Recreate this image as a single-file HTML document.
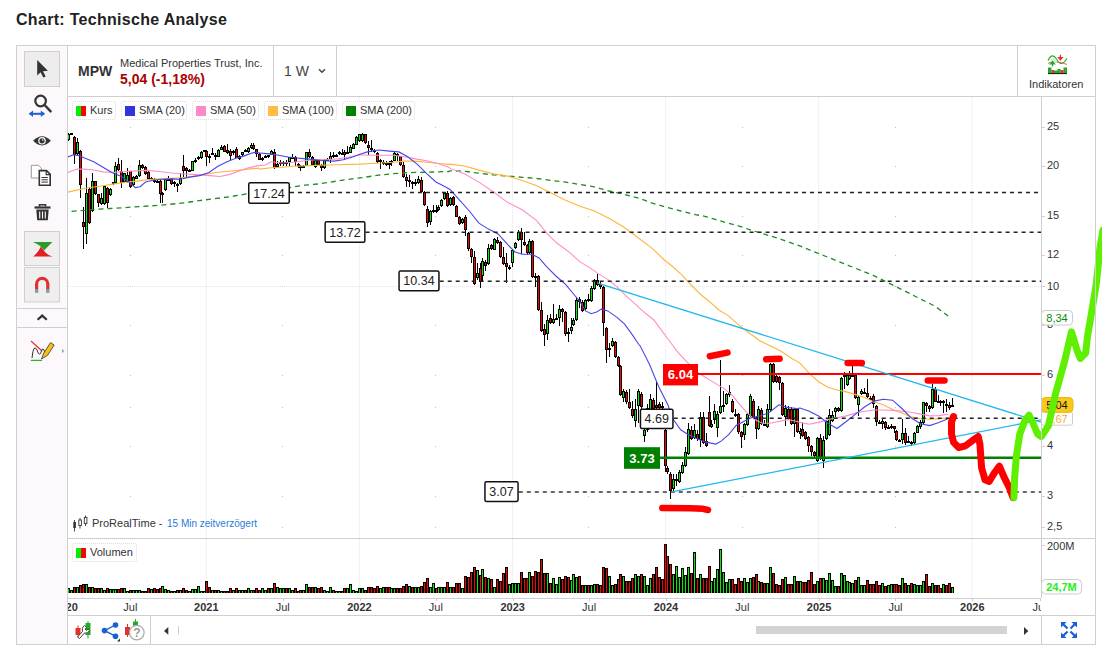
<!DOCTYPE html>
<html><head><meta charset="utf-8">
<style>
*{margin:0;padding:0;box-sizing:border-box}
html,body{width:1102px;height:648px;overflow:hidden;background:#fff;font-family:"Liberation Sans",sans-serif;color:#333}
.a{position:absolute}
#title{left:16px;top:11px;font-size:16px;font-weight:bold;color:#222;letter-spacing:0.3px;white-space:nowrap}
#box{left:16px;top:45px;width:1080px;height:600px;border:1px solid #cfcfcf}
#tb{left:17px;top:46px;width:51px;height:598px;background:#fdf8fb;border-right:1px solid #cfcfcf}
.hl{background:#cfcfcf}
#hdr{left:68px;top:46px;width:1027px;height:51px;border-bottom:1px solid #cfcfcf}
.leg{position:absolute;top:101px;height:19px;border:1px dotted #e6d6e0;border-radius:3px;font-size:11px;color:#333;line-height:18px;white-space:nowrap;background:#fff}
.sw{position:absolute;top:4px;width:10px;height:10px}
.lt{position:absolute;left:17px;top:-1px}
</style></head><body>
<div id="title" class="a">Chart: Technische Analyse</div>
<div id="box" class="a"></div>
<div id="tb" class="a"></div>
<!-- toolbar separators -->
<div class="a hl" style="left:17px;top:308px;width:50px;height:1px"></div>
<div class="a hl" style="left:17px;top:327px;width:50px;height:1px"></div>
<!-- header -->
<div id="hdr" class="a"></div>
<div class="a hl" style="left:273px;top:46px;width:1px;height:50px"></div>
<div class="a hl" style="left:336px;top:46px;width:1px;height:50px"></div>
<div class="a hl" style="left:1017px;top:46px;width:1px;height:50px"></div>
<div class="a" style="left:78px;top:63px;font-size:14px;font-weight:bold;color:#333">MPW</div>
<div class="a" style="left:120px;top:57px;font-size:11px;color:#333;white-space:nowrap">Medical Properties Trust, Inc.</div>
<div class="a" style="left:120px;top:71px;font-size:14px;font-weight:bold;color:#aa0000;white-space:nowrap">5,04 (-1,18%)</div>
<div class="a" style="left:284px;top:63px;font-size:14px;color:#444;white-space:nowrap">1 W</div>
<svg class="a" style="left:317px;top:67px" width="10" height="8"><path d="M2,2.3 L5,5.2 L8,2.3" stroke="#444" stroke-width="1.5" fill="none"/></svg>
<div class="a" style="left:1029px;top:78px;font-size:11px;color:#333">Indikatoren</div>
<!-- panes borders -->
<div class="a hl" style="left:68px;top:538px;width:1027px;height:1px"></div>
<div class="a hl" style="left:1041px;top:97px;width:1px;height:501px"></div>
<div class="a hl" style="left:68px;top:598px;width:973px;height:1px"></div>
<div class="a hl" style="left:68px;top:615px;width:1027px;height:1px"></div>
<div class="a hl" style="left:150px;top:616px;width:1px;height:28px"></div>
<div class="a hl" style="left:1041px;top:616px;width:1px;height:28px"></div>
<!-- scrollbar -->
<div class="a" style="left:756px;top:626px;width:251px;height:8px;background:#d3d3d3"></div>
<svg id="ch" width="1102" height="648" font-family="Liberation Sans, sans-serif"><defs><clipPath id="cp"><rect x="68" y="97" width="973" height="441"/></clipPath><clipPath id="cv"><rect x="68" y="539" width="973" height="59"/></clipPath><clipPath id="ct"><rect x="68" y="599" width="973" height="16"/></clipPath></defs><g clip-path="url(#cp)"><line x1="206.3" y1="97" x2="206.3" y2="538" stroke="#e4e4ee" stroke-width="1" stroke-dasharray="1 1"/><line x1="359.4" y1="97" x2="359.4" y2="538" stroke="#e4e4ee" stroke-width="1" stroke-dasharray="1 1"/><line x1="512.5" y1="97" x2="512.5" y2="538" stroke="#e4e4ee" stroke-width="1" stroke-dasharray="1 1"/><line x1="665.6" y1="97" x2="665.6" y2="538" stroke="#e4e4ee" stroke-width="1" stroke-dasharray="1 1"/><line x1="818.7" y1="97" x2="818.7" y2="538" stroke="#e4e4ee" stroke-width="1" stroke-dasharray="1 1"/><line x1="971.8" y1="97" x2="971.8" y2="538" stroke="#e4e4ee" stroke-width="1" stroke-dasharray="1 1"/><line x1="68" y1="286.5" x2="1041" y2="286.5" stroke="#e4e4ee" stroke-width="1" stroke-dasharray="1 1"/><rect x="130" y="127" width="1" height="1" fill="#bbb"/><rect x="130" y="166" width="1" height="1" fill="#bbb"/><rect x="130" y="216" width="1" height="1" fill="#bbb"/><rect x="130" y="255" width="1" height="1" fill="#bbb"/><rect x="130" y="286" width="1" height="1" fill="#bbb"/><rect x="130" y="325" width="1" height="1" fill="#bbb"/><rect x="130" y="375" width="1" height="1" fill="#bbb"/><rect x="130" y="407" width="1" height="1" fill="#bbb"/><rect x="130" y="446" width="1" height="1" fill="#bbb"/><rect x="130" y="496" width="1" height="1" fill="#bbb"/><rect x="130" y="527" width="1" height="1" fill="#bbb"/><rect x="282" y="127" width="1" height="1" fill="#bbb"/><rect x="282" y="166" width="1" height="1" fill="#bbb"/><rect x="282" y="216" width="1" height="1" fill="#bbb"/><rect x="282" y="255" width="1" height="1" fill="#bbb"/><rect x="282" y="286" width="1" height="1" fill="#bbb"/><rect x="282" y="325" width="1" height="1" fill="#bbb"/><rect x="282" y="375" width="1" height="1" fill="#bbb"/><rect x="282" y="407" width="1" height="1" fill="#bbb"/><rect x="282" y="446" width="1" height="1" fill="#bbb"/><rect x="282" y="496" width="1" height="1" fill="#bbb"/><rect x="282" y="527" width="1" height="1" fill="#bbb"/><rect x="435" y="127" width="1" height="1" fill="#bbb"/><rect x="435" y="166" width="1" height="1" fill="#bbb"/><rect x="435" y="216" width="1" height="1" fill="#bbb"/><rect x="435" y="255" width="1" height="1" fill="#bbb"/><rect x="435" y="286" width="1" height="1" fill="#bbb"/><rect x="435" y="325" width="1" height="1" fill="#bbb"/><rect x="435" y="375" width="1" height="1" fill="#bbb"/><rect x="435" y="407" width="1" height="1" fill="#bbb"/><rect x="435" y="446" width="1" height="1" fill="#bbb"/><rect x="435" y="496" width="1" height="1" fill="#bbb"/><rect x="435" y="527" width="1" height="1" fill="#bbb"/><rect x="588" y="127" width="1" height="1" fill="#bbb"/><rect x="588" y="166" width="1" height="1" fill="#bbb"/><rect x="588" y="216" width="1" height="1" fill="#bbb"/><rect x="588" y="255" width="1" height="1" fill="#bbb"/><rect x="588" y="286" width="1" height="1" fill="#bbb"/><rect x="588" y="325" width="1" height="1" fill="#bbb"/><rect x="588" y="375" width="1" height="1" fill="#bbb"/><rect x="588" y="407" width="1" height="1" fill="#bbb"/><rect x="588" y="446" width="1" height="1" fill="#bbb"/><rect x="588" y="496" width="1" height="1" fill="#bbb"/><rect x="588" y="527" width="1" height="1" fill="#bbb"/><rect x="742" y="127" width="1" height="1" fill="#bbb"/><rect x="742" y="166" width="1" height="1" fill="#bbb"/><rect x="742" y="216" width="1" height="1" fill="#bbb"/><rect x="742" y="255" width="1" height="1" fill="#bbb"/><rect x="742" y="286" width="1" height="1" fill="#bbb"/><rect x="742" y="325" width="1" height="1" fill="#bbb"/><rect x="742" y="375" width="1" height="1" fill="#bbb"/><rect x="742" y="407" width="1" height="1" fill="#bbb"/><rect x="742" y="446" width="1" height="1" fill="#bbb"/><rect x="742" y="496" width="1" height="1" fill="#bbb"/><rect x="742" y="527" width="1" height="1" fill="#bbb"/><rect x="895" y="127" width="1" height="1" fill="#bbb"/><rect x="895" y="166" width="1" height="1" fill="#bbb"/><rect x="895" y="216" width="1" height="1" fill="#bbb"/><rect x="895" y="255" width="1" height="1" fill="#bbb"/><rect x="895" y="286" width="1" height="1" fill="#bbb"/><rect x="895" y="325" width="1" height="1" fill="#bbb"/><rect x="895" y="375" width="1" height="1" fill="#bbb"/><rect x="895" y="407" width="1" height="1" fill="#bbb"/><rect x="895" y="446" width="1" height="1" fill="#bbb"/><rect x="895" y="496" width="1" height="1" fill="#bbb"/><rect x="895" y="527" width="1" height="1" fill="#bbb"/><rect x="1048" y="127" width="1" height="1" fill="#bbb"/><rect x="1048" y="166" width="1" height="1" fill="#bbb"/><rect x="1048" y="216" width="1" height="1" fill="#bbb"/><rect x="1048" y="255" width="1" height="1" fill="#bbb"/><rect x="1048" y="286" width="1" height="1" fill="#bbb"/><rect x="1048" y="325" width="1" height="1" fill="#bbb"/><rect x="1048" y="375" width="1" height="1" fill="#bbb"/><rect x="1048" y="407" width="1" height="1" fill="#bbb"/><rect x="1048" y="446" width="1" height="1" fill="#bbb"/><rect x="1048" y="496" width="1" height="1" fill="#bbb"/><rect x="1048" y="527" width="1" height="1" fill="#bbb"/></g><g clip-path="url(#cv)"><line x1="206.3" y1="539" x2="206.3" y2="598" stroke="#e4e4ee" stroke-dasharray="1 1"/><line x1="359.4" y1="539" x2="359.4" y2="598" stroke="#e4e4ee" stroke-dasharray="1 1"/><line x1="512.5" y1="539" x2="512.5" y2="598" stroke="#e4e4ee" stroke-dasharray="1 1"/><line x1="665.6" y1="539" x2="665.6" y2="598" stroke="#e4e4ee" stroke-dasharray="1 1"/><line x1="818.7" y1="539" x2="818.7" y2="598" stroke="#e4e4ee" stroke-dasharray="1 1"/><line x1="971.8" y1="539" x2="971.8" y2="598" stroke="#e4e4ee" stroke-dasharray="1 1"/></g><g clip-path="url(#cp)"><rect x="68" y="133" width="1" height="8" fill="#000"/><rect x="67" y="134" width="3" height="6" fill="#000"/><rect x="68" y="135" width="1" height="4" fill="#00ee00"/><rect x="71" y="133" width="1" height="2" fill="#000"/><rect x="70" y="133" width="3" height="2" fill="#000"/><rect x="74" y="136" width="1" height="28" fill="#000"/><rect x="73" y="137" width="3" height="18" fill="#000"/><rect x="74" y="138" width="1" height="16" fill="#ff0000"/><rect x="77" y="138" width="1" height="17" fill="#000"/><rect x="76" y="142" width="3" height="12" fill="#000"/><rect x="77" y="143" width="1" height="10" fill="#00ee00"/><rect x="80" y="150" width="1" height="48" fill="#000"/><rect x="79" y="151" width="3" height="34" fill="#000"/><rect x="80" y="152" width="1" height="32" fill="#ff0000"/><rect x="83" y="207" width="1" height="42" fill="#000"/><rect x="82" y="222" width="3" height="5" fill="#000"/><rect x="83" y="223" width="1" height="3" fill="#ff0000"/><rect x="86" y="178" width="1" height="66" fill="#000"/><rect x="85" y="193" width="3" height="41" fill="#000"/><rect x="86" y="194" width="1" height="39" fill="#00ee00"/><rect x="89" y="187" width="1" height="37" fill="#000"/><rect x="88" y="189" width="3" height="34" fill="#000"/><rect x="89" y="190" width="1" height="32" fill="#ff0000"/><rect x="92" y="173" width="1" height="39" fill="#000"/><rect x="91" y="181" width="3" height="30" fill="#000"/><rect x="92" y="182" width="1" height="28" fill="#00ee00"/><rect x="95" y="181" width="1" height="14" fill="#000"/><rect x="94" y="181" width="3" height="13" fill="#000"/><rect x="95" y="182" width="1" height="11" fill="#ff0000"/><rect x="98" y="194" width="1" height="13" fill="#000"/><rect x="97" y="194" width="3" height="9" fill="#000"/><rect x="98" y="195" width="1" height="7" fill="#ff0000"/><rect x="101" y="193" width="1" height="12" fill="#000"/><rect x="100" y="198" width="3" height="6" fill="#000"/><rect x="101" y="199" width="1" height="4" fill="#00ee00"/><rect x="104" y="185" width="1" height="20" fill="#000"/><rect x="103" y="186" width="3" height="18" fill="#000"/><rect x="104" y="187" width="1" height="16" fill="#00ee00"/><rect x="107" y="187" width="1" height="21" fill="#000"/><rect x="106" y="188" width="3" height="15" fill="#000"/><rect x="107" y="189" width="1" height="13" fill="#ff0000"/><rect x="110" y="188" width="1" height="8" fill="#000"/><rect x="109" y="189" width="3" height="6" fill="#000"/><rect x="110" y="190" width="1" height="4" fill="#00ee00"/><rect x="113" y="182" width="1" height="3" fill="#000"/><rect x="112" y="182" width="3" height="2" fill="#000"/><rect x="115" y="162" width="1" height="22" fill="#000"/><rect x="114" y="166" width="3" height="17" fill="#000"/><rect x="115" y="167" width="1" height="15" fill="#00ee00"/><rect x="118" y="158" width="1" height="13" fill="#000"/><rect x="117" y="164" width="3" height="6" fill="#000"/><rect x="118" y="165" width="1" height="4" fill="#ff0000"/><rect x="121" y="160" width="1" height="28" fill="#000"/><rect x="120" y="171" width="3" height="12" fill="#000"/><rect x="121" y="172" width="1" height="10" fill="#ff0000"/><rect x="124" y="173" width="1" height="10" fill="#000"/><rect x="123" y="173" width="3" height="9" fill="#000"/><rect x="124" y="174" width="1" height="7" fill="#00ee00"/><rect x="127" y="168" width="1" height="15" fill="#000"/><rect x="126" y="175" width="3" height="7" fill="#000"/><rect x="127" y="176" width="1" height="5" fill="#00ee00"/><rect x="130" y="171" width="1" height="17" fill="#000"/><rect x="129" y="171" width="3" height="16" fill="#000"/><rect x="130" y="172" width="1" height="14" fill="#ff0000"/><rect x="133" y="176" width="1" height="10" fill="#000"/><rect x="132" y="177" width="3" height="8" fill="#000"/><rect x="133" y="178" width="1" height="6" fill="#00ee00"/><rect x="136" y="175" width="1" height="4" fill="#000"/><rect x="135" y="176" width="3" height="3" fill="#000"/><rect x="136" y="177" width="1" height="1" fill="#00ee00"/><rect x="139" y="160" width="1" height="17" fill="#000"/><rect x="138" y="165" width="3" height="11" fill="#000"/><rect x="139" y="166" width="1" height="9" fill="#00ee00"/><rect x="142" y="164" width="1" height="5" fill="#000"/><rect x="141" y="165" width="3" height="3" fill="#000"/><rect x="142" y="166" width="1" height="1" fill="#ff0000"/><rect x="145" y="166" width="1" height="9" fill="#000"/><rect x="144" y="167" width="3" height="7" fill="#000"/><rect x="145" y="168" width="1" height="5" fill="#ff0000"/><rect x="148" y="171" width="1" height="9" fill="#000"/><rect x="147" y="172" width="3" height="7" fill="#000"/><rect x="148" y="173" width="1" height="5" fill="#ff0000"/><rect x="151" y="177" width="1" height="3" fill="#000"/><rect x="150" y="178" width="3" height="2" fill="#000"/><rect x="154" y="178" width="1" height="5" fill="#000"/><rect x="153" y="180" width="3" height="2" fill="#000"/><rect x="157" y="180" width="1" height="3" fill="#000"/><rect x="156" y="181" width="3" height="2" fill="#000"/><rect x="160" y="180" width="1" height="23" fill="#000"/><rect x="159" y="181" width="3" height="13" fill="#000"/><rect x="160" y="182" width="1" height="11" fill="#ff0000"/><rect x="162" y="192" width="1" height="11" fill="#000"/><rect x="161" y="193" width="3" height="2" fill="#000"/><rect x="165" y="178" width="1" height="13" fill="#000"/><rect x="164" y="179" width="3" height="11" fill="#000"/><rect x="165" y="180" width="1" height="9" fill="#00ee00"/><rect x="168" y="176" width="1" height="5" fill="#000"/><rect x="167" y="179" width="3" height="2" fill="#000"/><rect x="171" y="178" width="1" height="7" fill="#000"/><rect x="170" y="179" width="3" height="5" fill="#000"/><rect x="171" y="180" width="1" height="3" fill="#ff0000"/><rect x="174" y="181" width="1" height="6" fill="#000"/><rect x="173" y="182" width="3" height="2" fill="#000"/><rect x="177" y="183" width="1" height="9" fill="#000"/><rect x="176" y="184" width="3" height="2" fill="#000"/><rect x="180" y="173" width="1" height="12" fill="#000"/><rect x="179" y="178" width="3" height="6" fill="#000"/><rect x="180" y="179" width="1" height="4" fill="#00ee00"/><rect x="183" y="155" width="1" height="22" fill="#000"/><rect x="182" y="166" width="3" height="5" fill="#000"/><rect x="183" y="167" width="1" height="3" fill="#ff0000"/><rect x="186" y="167" width="1" height="10" fill="#000"/><rect x="185" y="168" width="3" height="3" fill="#000"/><rect x="186" y="169" width="1" height="1" fill="#ff0000"/><rect x="189" y="169" width="1" height="3" fill="#000"/><rect x="188" y="170" width="3" height="2" fill="#000"/><rect x="192" y="161" width="1" height="10" fill="#000"/><rect x="191" y="161" width="3" height="10" fill="#000"/><rect x="192" y="162" width="1" height="8" fill="#00ee00"/><rect x="195" y="158" width="1" height="5" fill="#000"/><rect x="194" y="160" width="3" height="2" fill="#000"/><rect x="198" y="156" width="1" height="4" fill="#000"/><rect x="197" y="157" width="3" height="2" fill="#000"/><rect x="201" y="151" width="1" height="8" fill="#000"/><rect x="200" y="152" width="3" height="6" fill="#000"/><rect x="201" y="153" width="1" height="4" fill="#00ee00"/><rect x="204" y="150" width="1" height="2" fill="#000"/><rect x="203" y="150" width="3" height="2" fill="#000"/><rect x="206" y="150" width="1" height="16" fill="#000"/><rect x="205" y="151" width="3" height="6" fill="#000"/><rect x="206" y="152" width="1" height="4" fill="#ff0000"/><rect x="209" y="154" width="1" height="9" fill="#000"/><rect x="208" y="156" width="3" height="2" fill="#000"/><rect x="212" y="148" width="1" height="7" fill="#000"/><rect x="211" y="153" width="3" height="2" fill="#000"/><rect x="215" y="153" width="1" height="7" fill="#000"/><rect x="214" y="155" width="3" height="2" fill="#000"/><rect x="218" y="149" width="1" height="8" fill="#000"/><rect x="217" y="150" width="3" height="7" fill="#000"/><rect x="218" y="151" width="1" height="5" fill="#00ee00"/><rect x="221" y="145" width="1" height="5" fill="#000"/><rect x="220" y="147" width="3" height="3" fill="#000"/><rect x="221" y="148" width="1" height="1" fill="#00ee00"/><rect x="224" y="145" width="1" height="7" fill="#000"/><rect x="223" y="146" width="3" height="6" fill="#000"/><rect x="224" y="147" width="1" height="4" fill="#ff0000"/><rect x="227" y="144" width="1" height="10" fill="#000"/><rect x="226" y="150" width="3" height="3" fill="#000"/><rect x="227" y="151" width="1" height="1" fill="#ff0000"/><rect x="230" y="149" width="1" height="11" fill="#000"/><rect x="229" y="151" width="3" height="5" fill="#000"/><rect x="230" y="152" width="1" height="3" fill="#ff0000"/><rect x="233" y="150" width="1" height="5" fill="#000"/><rect x="232" y="151" width="3" height="2" fill="#000"/><rect x="236" y="147" width="1" height="11" fill="#000"/><rect x="235" y="149" width="3" height="9" fill="#000"/><rect x="236" y="150" width="1" height="7" fill="#ff0000"/><rect x="239" y="155" width="1" height="5" fill="#000"/><rect x="238" y="156" width="3" height="3" fill="#000"/><rect x="239" y="157" width="1" height="1" fill="#00ee00"/><rect x="242" y="152" width="1" height="4" fill="#000"/><rect x="241" y="152" width="3" height="3" fill="#000"/><rect x="242" y="153" width="1" height="1" fill="#00ee00"/><rect x="245" y="149" width="1" height="3" fill="#000"/><rect x="244" y="150" width="3" height="2" fill="#000"/><rect x="248" y="147" width="1" height="6" fill="#000"/><rect x="247" y="148" width="3" height="4" fill="#000"/><rect x="248" y="149" width="1" height="2" fill="#00ee00"/><rect x="251" y="143" width="1" height="6" fill="#000"/><rect x="250" y="145" width="3" height="3" fill="#000"/><rect x="251" y="146" width="1" height="1" fill="#00ee00"/><rect x="253" y="143" width="1" height="7" fill="#000"/><rect x="252" y="145" width="3" height="4" fill="#000"/><rect x="253" y="146" width="1" height="2" fill="#ff0000"/><rect x="256" y="149" width="1" height="8" fill="#000"/><rect x="255" y="149" width="3" height="5" fill="#000"/><rect x="256" y="150" width="1" height="3" fill="#ff0000"/><rect x="259" y="153" width="1" height="7" fill="#000"/><rect x="258" y="154" width="3" height="6" fill="#000"/><rect x="259" y="155" width="1" height="4" fill="#ff0000"/><rect x="262" y="157" width="1" height="4" fill="#000"/><rect x="261" y="158" width="3" height="2" fill="#000"/><rect x="265" y="155" width="1" height="3" fill="#000"/><rect x="264" y="156" width="3" height="2" fill="#000"/><rect x="268" y="155" width="1" height="3" fill="#000"/><rect x="267" y="155" width="3" height="2" fill="#000"/><rect x="271" y="150" width="1" height="5" fill="#000"/><rect x="270" y="151" width="3" height="4" fill="#000"/><rect x="271" y="152" width="1" height="2" fill="#00ee00"/><rect x="274" y="149" width="1" height="20" fill="#000"/><rect x="273" y="152" width="3" height="16" fill="#000"/><rect x="274" y="153" width="1" height="14" fill="#ff0000"/><rect x="277" y="161" width="1" height="7" fill="#000"/><rect x="276" y="164" width="3" height="3" fill="#000"/><rect x="277" y="165" width="1" height="1" fill="#00ee00"/><rect x="280" y="160" width="1" height="6" fill="#000"/><rect x="279" y="162" width="3" height="2" fill="#000"/><rect x="283" y="161" width="1" height="5" fill="#000"/><rect x="282" y="162" width="3" height="2" fill="#000"/><rect x="286" y="160" width="1" height="6" fill="#000"/><rect x="285" y="162" width="3" height="2" fill="#000"/><rect x="289" y="157" width="1" height="9" fill="#000"/><rect x="288" y="157" width="3" height="5" fill="#000"/><rect x="289" y="158" width="1" height="3" fill="#00ee00"/><rect x="292" y="154" width="1" height="5" fill="#000"/><rect x="291" y="157" width="3" height="2" fill="#000"/><rect x="295" y="156" width="1" height="10" fill="#000"/><rect x="294" y="157" width="3" height="5" fill="#000"/><rect x="295" y="158" width="1" height="3" fill="#ff0000"/><rect x="298" y="163" width="1" height="5" fill="#000"/><rect x="297" y="164" width="3" height="2" fill="#000"/><rect x="300" y="165" width="1" height="6" fill="#000"/><rect x="299" y="166" width="3" height="2" fill="#000"/><rect x="303" y="165" width="1" height="3" fill="#000"/><rect x="302" y="166" width="3" height="2" fill="#000"/><rect x="306" y="152" width="1" height="14" fill="#000"/><rect x="305" y="152" width="3" height="14" fill="#000"/><rect x="306" y="153" width="1" height="12" fill="#00ee00"/><rect x="309" y="149" width="1" height="9" fill="#000"/><rect x="308" y="152" width="3" height="5" fill="#000"/><rect x="309" y="153" width="1" height="3" fill="#ff0000"/><rect x="312" y="156" width="1" height="10" fill="#000"/><rect x="311" y="157" width="3" height="8" fill="#000"/><rect x="312" y="158" width="1" height="6" fill="#ff0000"/><rect x="315" y="159" width="1" height="9" fill="#000"/><rect x="314" y="160" width="3" height="7" fill="#000"/><rect x="315" y="161" width="1" height="5" fill="#00ee00"/><rect x="318" y="160" width="1" height="5" fill="#000"/><rect x="317" y="160" width="3" height="5" fill="#000"/><rect x="318" y="161" width="1" height="3" fill="#ff0000"/><rect x="321" y="164" width="1" height="7" fill="#000"/><rect x="320" y="165" width="3" height="3" fill="#000"/><rect x="321" y="166" width="1" height="1" fill="#ff0000"/><rect x="324" y="159" width="1" height="10" fill="#000"/><rect x="323" y="160" width="3" height="8" fill="#000"/><rect x="324" y="161" width="1" height="6" fill="#00ee00"/><rect x="327" y="158" width="1" height="3" fill="#000"/><rect x="326" y="159" width="3" height="2" fill="#000"/><rect x="330" y="152" width="1" height="11" fill="#000"/><rect x="329" y="156" width="3" height="4" fill="#000"/><rect x="330" y="157" width="1" height="2" fill="#00ee00"/><rect x="333" y="152" width="1" height="6" fill="#000"/><rect x="332" y="155" width="3" height="2" fill="#000"/><rect x="336" y="154" width="1" height="3" fill="#000"/><rect x="335" y="155" width="3" height="2" fill="#000"/><rect x="339" y="151" width="1" height="4" fill="#000"/><rect x="338" y="152" width="3" height="2" fill="#000"/><rect x="342" y="149" width="1" height="6" fill="#000"/><rect x="341" y="153" width="3" height="2" fill="#000"/><rect x="344" y="150" width="1" height="9" fill="#000"/><rect x="343" y="152" width="3" height="3" fill="#000"/><rect x="344" y="153" width="1" height="1" fill="#ff0000"/><rect x="347" y="146" width="1" height="8" fill="#000"/><rect x="346" y="152" width="3" height="2" fill="#000"/><rect x="350" y="145" width="1" height="8" fill="#000"/><rect x="349" y="147" width="3" height="6" fill="#000"/><rect x="350" y="148" width="1" height="4" fill="#00ee00"/><rect x="353" y="143" width="1" height="6" fill="#000"/><rect x="352" y="144" width="3" height="5" fill="#000"/><rect x="353" y="145" width="1" height="3" fill="#00ee00"/><rect x="356" y="136" width="1" height="9" fill="#000"/><rect x="355" y="137" width="3" height="8" fill="#000"/><rect x="356" y="138" width="1" height="6" fill="#00ee00"/><rect x="359" y="134" width="1" height="8" fill="#000"/><rect x="358" y="134" width="3" height="7" fill="#000"/><rect x="359" y="135" width="1" height="5" fill="#00ee00"/><rect x="362" y="133" width="1" height="9" fill="#000"/><rect x="361" y="134" width="3" height="7" fill="#000"/><rect x="362" y="135" width="1" height="5" fill="#00ee00"/><rect x="365" y="134" width="1" height="10" fill="#000"/><rect x="364" y="134" width="3" height="9" fill="#000"/><rect x="365" y="135" width="1" height="7" fill="#ff0000"/><rect x="368" y="141" width="1" height="14" fill="#000"/><rect x="367" y="145" width="3" height="3" fill="#000"/><rect x="368" y="146" width="1" height="1" fill="#ff0000"/><rect x="371" y="140" width="1" height="12" fill="#000"/><rect x="370" y="148" width="3" height="2" fill="#000"/><rect x="374" y="149" width="1" height="4" fill="#000"/><rect x="373" y="150" width="3" height="2" fill="#000"/><rect x="377" y="152" width="1" height="11" fill="#000"/><rect x="376" y="153" width="3" height="9" fill="#000"/><rect x="377" y="154" width="1" height="7" fill="#ff0000"/><rect x="380" y="159" width="1" height="10" fill="#000"/><rect x="379" y="160" width="3" height="2" fill="#000"/><rect x="383" y="160" width="1" height="5" fill="#000"/><rect x="382" y="162" width="3" height="2" fill="#000"/><rect x="386" y="161" width="1" height="5" fill="#000"/><rect x="385" y="163" width="3" height="2" fill="#000"/><rect x="389" y="161" width="1" height="8" fill="#000"/><rect x="388" y="163" width="3" height="2" fill="#000"/><rect x="391" y="160" width="1" height="6" fill="#000"/><rect x="390" y="161" width="3" height="2" fill="#000"/><rect x="394" y="152" width="1" height="9" fill="#000"/><rect x="393" y="153" width="3" height="8" fill="#000"/><rect x="394" y="154" width="1" height="6" fill="#00ee00"/><rect x="397" y="153" width="1" height="8" fill="#000"/><rect x="396" y="154" width="3" height="2" fill="#000"/><rect x="400" y="156" width="1" height="10" fill="#000"/><rect x="399" y="156" width="3" height="9" fill="#000"/><rect x="400" y="157" width="1" height="7" fill="#ff0000"/><rect x="403" y="162" width="1" height="16" fill="#000"/><rect x="402" y="165" width="3" height="12" fill="#000"/><rect x="403" y="166" width="1" height="10" fill="#ff0000"/><rect x="406" y="174" width="1" height="13" fill="#000"/><rect x="405" y="177" width="3" height="4" fill="#000"/><rect x="406" y="178" width="1" height="2" fill="#ff0000"/><rect x="409" y="175" width="1" height="12" fill="#000"/><rect x="408" y="180" width="3" height="2" fill="#000"/><rect x="412" y="181" width="1" height="8" fill="#000"/><rect x="411" y="182" width="3" height="2" fill="#000"/><rect x="415" y="179" width="1" height="7" fill="#000"/><rect x="414" y="182" width="3" height="2" fill="#000"/><rect x="418" y="176" width="1" height="8" fill="#000"/><rect x="417" y="179" width="3" height="4" fill="#000"/><rect x="418" y="180" width="1" height="2" fill="#00ee00"/><rect x="421" y="177" width="1" height="15" fill="#000"/><rect x="420" y="180" width="3" height="12" fill="#000"/><rect x="421" y="181" width="1" height="10" fill="#ff0000"/><rect x="424" y="191" width="1" height="15" fill="#000"/><rect x="423" y="192" width="3" height="13" fill="#000"/><rect x="424" y="193" width="1" height="11" fill="#ff0000"/><rect x="427" y="206" width="1" height="21" fill="#000"/><rect x="426" y="209" width="3" height="14" fill="#000"/><rect x="427" y="210" width="1" height="12" fill="#ff0000"/><rect x="430" y="210" width="1" height="15" fill="#000"/><rect x="429" y="211" width="3" height="11" fill="#000"/><rect x="430" y="212" width="1" height="9" fill="#00ee00"/><rect x="433" y="205" width="1" height="8" fill="#000"/><rect x="432" y="210" width="3" height="2" fill="#000"/><rect x="436" y="205" width="1" height="8" fill="#000"/><rect x="435" y="210" width="3" height="2" fill="#000"/><rect x="438" y="205" width="1" height="6" fill="#000"/><rect x="437" y="207" width="3" height="3" fill="#000"/><rect x="438" y="208" width="1" height="1" fill="#00ee00"/><rect x="441" y="199" width="1" height="8" fill="#000"/><rect x="440" y="200" width="3" height="6" fill="#000"/><rect x="441" y="201" width="1" height="4" fill="#00ee00"/><rect x="444" y="192" width="1" height="8" fill="#000"/><rect x="443" y="193" width="3" height="6" fill="#000"/><rect x="444" y="194" width="1" height="4" fill="#00ee00"/><rect x="447" y="191" width="1" height="16" fill="#000"/><rect x="446" y="193" width="3" height="13" fill="#000"/><rect x="447" y="194" width="1" height="11" fill="#ff0000"/><rect x="450" y="197" width="1" height="9" fill="#000"/><rect x="449" y="198" width="3" height="7" fill="#000"/><rect x="450" y="199" width="1" height="5" fill="#00ee00"/><rect x="453" y="196" width="1" height="10" fill="#000"/><rect x="452" y="197" width="3" height="8" fill="#000"/><rect x="453" y="198" width="1" height="6" fill="#ff0000"/><rect x="456" y="205" width="1" height="12" fill="#000"/><rect x="455" y="206" width="3" height="11" fill="#000"/><rect x="456" y="207" width="1" height="9" fill="#ff0000"/><rect x="459" y="216" width="1" height="9" fill="#000"/><rect x="458" y="217" width="3" height="7" fill="#000"/><rect x="459" y="218" width="1" height="5" fill="#ff0000"/><rect x="462" y="218" width="1" height="6" fill="#000"/><rect x="461" y="219" width="3" height="4" fill="#000"/><rect x="462" y="220" width="1" height="2" fill="#00ee00"/><rect x="465" y="215" width="1" height="21" fill="#000"/><rect x="464" y="217" width="3" height="13" fill="#000"/><rect x="465" y="218" width="1" height="11" fill="#ff0000"/><rect x="468" y="232" width="1" height="19" fill="#000"/><rect x="467" y="233" width="3" height="16" fill="#000"/><rect x="468" y="234" width="1" height="14" fill="#ff0000"/><rect x="471" y="248" width="1" height="15" fill="#000"/><rect x="470" y="249" width="3" height="8" fill="#000"/><rect x="471" y="250" width="1" height="6" fill="#ff0000"/><rect x="474" y="251" width="1" height="34" fill="#000"/><rect x="473" y="257" width="3" height="27" fill="#000"/><rect x="474" y="258" width="1" height="25" fill="#ff0000"/><rect x="477" y="263" width="1" height="17" fill="#000"/><rect x="476" y="273" width="3" height="5" fill="#000"/><rect x="477" y="274" width="1" height="3" fill="#00ee00"/><rect x="480" y="263" width="1" height="25" fill="#000"/><rect x="479" y="268" width="3" height="14" fill="#000"/><rect x="480" y="269" width="1" height="12" fill="#ff0000"/><rect x="482" y="258" width="1" height="24" fill="#000"/><rect x="481" y="261" width="3" height="15" fill="#000"/><rect x="482" y="262" width="1" height="13" fill="#00ee00"/><rect x="485" y="260" width="1" height="11" fill="#000"/><rect x="484" y="262" width="3" height="4" fill="#000"/><rect x="485" y="263" width="1" height="2" fill="#ff0000"/><rect x="488" y="244" width="1" height="21" fill="#000"/><rect x="487" y="248" width="3" height="16" fill="#000"/><rect x="488" y="249" width="1" height="14" fill="#00ee00"/><rect x="491" y="244" width="1" height="6" fill="#000"/><rect x="490" y="245" width="3" height="4" fill="#000"/><rect x="491" y="246" width="1" height="2" fill="#ff0000"/><rect x="494" y="238" width="1" height="12" fill="#000"/><rect x="493" y="239" width="3" height="11" fill="#000"/><rect x="494" y="240" width="1" height="9" fill="#00ee00"/><rect x="497" y="237" width="1" height="7" fill="#000"/><rect x="496" y="240" width="3" height="3" fill="#000"/><rect x="497" y="241" width="1" height="1" fill="#ff0000"/><rect x="500" y="241" width="1" height="17" fill="#000"/><rect x="499" y="242" width="3" height="15" fill="#000"/><rect x="500" y="243" width="1" height="13" fill="#ff0000"/><rect x="503" y="247" width="1" height="18" fill="#000"/><rect x="502" y="257" width="3" height="7" fill="#000"/><rect x="503" y="258" width="1" height="5" fill="#ff0000"/><rect x="506" y="253" width="1" height="30" fill="#000"/><rect x="505" y="263" width="3" height="4" fill="#000"/><rect x="506" y="264" width="1" height="2" fill="#ff0000"/><rect x="509" y="265" width="1" height="5" fill="#000"/><rect x="508" y="267" width="3" height="2" fill="#000"/><rect x="512" y="249" width="1" height="18" fill="#000"/><rect x="511" y="250" width="3" height="13" fill="#000"/><rect x="512" y="251" width="1" height="11" fill="#00ee00"/><rect x="515" y="242" width="1" height="7" fill="#000"/><rect x="514" y="243" width="3" height="5" fill="#000"/><rect x="515" y="244" width="1" height="3" fill="#00ee00"/><rect x="518" y="230" width="1" height="11" fill="#000"/><rect x="517" y="232" width="3" height="8" fill="#000"/><rect x="518" y="233" width="1" height="6" fill="#00ee00"/><rect x="521" y="228" width="1" height="26" fill="#000"/><rect x="520" y="232" width="3" height="8" fill="#000"/><rect x="521" y="233" width="1" height="6" fill="#ff0000"/><rect x="524" y="232" width="1" height="14" fill="#000"/><rect x="523" y="242" width="3" height="3" fill="#000"/><rect x="524" y="243" width="1" height="1" fill="#ff0000"/><rect x="527" y="244" width="1" height="11" fill="#000"/><rect x="526" y="245" width="3" height="8" fill="#000"/><rect x="527" y="246" width="1" height="6" fill="#ff0000"/><rect x="529" y="239" width="1" height="15" fill="#000"/><rect x="528" y="241" width="3" height="12" fill="#000"/><rect x="529" y="242" width="1" height="10" fill="#00ee00"/><rect x="532" y="240" width="1" height="38" fill="#000"/><rect x="531" y="241" width="3" height="36" fill="#000"/><rect x="532" y="242" width="1" height="34" fill="#ff0000"/><rect x="535" y="273" width="1" height="14" fill="#000"/><rect x="534" y="276" width="3" height="2" fill="#000"/><rect x="538" y="275" width="1" height="36" fill="#000"/><rect x="537" y="276" width="3" height="34" fill="#000"/><rect x="538" y="277" width="1" height="32" fill="#ff0000"/><rect x="541" y="302" width="1" height="30" fill="#000"/><rect x="540" y="310" width="3" height="21" fill="#000"/><rect x="541" y="311" width="1" height="19" fill="#ff0000"/><rect x="544" y="324" width="1" height="22" fill="#000"/><rect x="543" y="329" width="3" height="6" fill="#000"/><rect x="544" y="330" width="1" height="4" fill="#ff0000"/><rect x="547" y="315" width="1" height="25" fill="#000"/><rect x="546" y="320" width="3" height="14" fill="#000"/><rect x="547" y="321" width="1" height="12" fill="#00ee00"/><rect x="550" y="314" width="1" height="10" fill="#000"/><rect x="549" y="318" width="3" height="5" fill="#000"/><rect x="550" y="319" width="1" height="3" fill="#ff0000"/><rect x="553" y="304" width="1" height="20" fill="#000"/><rect x="552" y="319" width="3" height="4" fill="#000"/><rect x="553" y="320" width="1" height="2" fill="#00ee00"/><rect x="556" y="314" width="1" height="6" fill="#000"/><rect x="555" y="318" width="3" height="2" fill="#000"/><rect x="559" y="305" width="1" height="21" fill="#000"/><rect x="558" y="309" width="3" height="9" fill="#000"/><rect x="559" y="310" width="1" height="7" fill="#00ee00"/><rect x="562" y="308" width="1" height="14" fill="#000"/><rect x="561" y="309" width="3" height="3" fill="#000"/><rect x="562" y="310" width="1" height="1" fill="#ff0000"/><rect x="565" y="311" width="1" height="25" fill="#000"/><rect x="564" y="312" width="3" height="22" fill="#000"/><rect x="565" y="313" width="1" height="20" fill="#ff0000"/><rect x="568" y="328" width="1" height="14" fill="#000"/><rect x="567" y="332" width="3" height="2" fill="#000"/><rect x="571" y="318" width="1" height="16" fill="#000"/><rect x="570" y="327" width="3" height="4" fill="#000"/><rect x="571" y="328" width="1" height="2" fill="#00ee00"/><rect x="573" y="318" width="1" height="8" fill="#000"/><rect x="572" y="320" width="3" height="5" fill="#000"/><rect x="573" y="321" width="1" height="3" fill="#00ee00"/><rect x="576" y="297" width="1" height="24" fill="#000"/><rect x="575" y="300" width="3" height="20" fill="#000"/><rect x="576" y="301" width="1" height="18" fill="#00ee00"/><rect x="579" y="297" width="1" height="11" fill="#000"/><rect x="578" y="299" width="3" height="3" fill="#000"/><rect x="579" y="300" width="1" height="1" fill="#ff0000"/><rect x="582" y="300" width="1" height="12" fill="#000"/><rect x="581" y="302" width="3" height="9" fill="#000"/><rect x="582" y="303" width="1" height="7" fill="#ff0000"/><rect x="585" y="299" width="1" height="11" fill="#000"/><rect x="584" y="300" width="3" height="9" fill="#000"/><rect x="585" y="301" width="1" height="7" fill="#00ee00"/><rect x="588" y="294" width="1" height="8" fill="#000"/><rect x="587" y="299" width="3" height="2" fill="#000"/><rect x="591" y="286" width="1" height="16" fill="#000"/><rect x="590" y="288" width="3" height="13" fill="#000"/><rect x="591" y="289" width="1" height="11" fill="#00ee00"/><rect x="594" y="279" width="1" height="11" fill="#000"/><rect x="593" y="280" width="3" height="9" fill="#000"/><rect x="594" y="281" width="1" height="7" fill="#00ee00"/><rect x="597" y="274" width="1" height="12" fill="#000"/><rect x="596" y="280" width="3" height="5" fill="#000"/><rect x="597" y="281" width="1" height="3" fill="#ff0000"/><rect x="600" y="282" width="1" height="7" fill="#000"/><rect x="599" y="284" width="3" height="3" fill="#000"/><rect x="600" y="285" width="1" height="1" fill="#ff0000"/><rect x="603" y="286" width="1" height="50" fill="#000"/><rect x="602" y="287" width="3" height="36" fill="#000"/><rect x="603" y="288" width="1" height="34" fill="#ff0000"/><rect x="606" y="327" width="1" height="36" fill="#000"/><rect x="605" y="328" width="3" height="22" fill="#000"/><rect x="606" y="329" width="1" height="20" fill="#ff0000"/><rect x="609" y="343" width="1" height="14" fill="#000"/><rect x="608" y="348" width="3" height="2" fill="#000"/><rect x="612" y="338" width="1" height="9" fill="#000"/><rect x="611" y="341" width="3" height="5" fill="#000"/><rect x="612" y="342" width="1" height="3" fill="#00ee00"/><rect x="615" y="341" width="1" height="17" fill="#000"/><rect x="614" y="342" width="3" height="15" fill="#000"/><rect x="615" y="343" width="1" height="13" fill="#ff0000"/><rect x="618" y="356" width="1" height="11" fill="#000"/><rect x="617" y="357" width="3" height="9" fill="#000"/><rect x="618" y="358" width="1" height="7" fill="#ff0000"/><rect x="620" y="365" width="1" height="31" fill="#000"/><rect x="619" y="366" width="3" height="29" fill="#000"/><rect x="620" y="367" width="1" height="27" fill="#ff0000"/><rect x="623" y="389" width="1" height="13" fill="#000"/><rect x="622" y="391" width="3" height="7" fill="#000"/><rect x="623" y="392" width="1" height="5" fill="#00ee00"/><rect x="626" y="390" width="1" height="14" fill="#000"/><rect x="625" y="392" width="3" height="10" fill="#000"/><rect x="626" y="393" width="1" height="8" fill="#ff0000"/><rect x="629" y="389" width="1" height="20" fill="#000"/><rect x="628" y="402" width="3" height="6" fill="#000"/><rect x="629" y="403" width="1" height="4" fill="#ff0000"/><rect x="632" y="401" width="1" height="17" fill="#000"/><rect x="631" y="409" width="3" height="7" fill="#000"/><rect x="632" y="410" width="1" height="5" fill="#ff0000"/><rect x="635" y="399" width="1" height="28" fill="#000"/><rect x="634" y="409" width="3" height="12" fill="#000"/><rect x="635" y="410" width="1" height="10" fill="#00ee00"/><rect x="638" y="389" width="1" height="34" fill="#000"/><rect x="637" y="391" width="3" height="15" fill="#000"/><rect x="638" y="392" width="1" height="13" fill="#00ee00"/><rect x="641" y="392" width="1" height="17" fill="#000"/><rect x="640" y="394" width="3" height="13" fill="#000"/><rect x="641" y="395" width="1" height="11" fill="#ff0000"/><rect x="644" y="428" width="1" height="14" fill="#000"/><rect x="643" y="430" width="3" height="6" fill="#000"/><rect x="644" y="431" width="1" height="4" fill="#00ee00"/><rect x="647" y="404" width="1" height="28" fill="#000"/><rect x="646" y="408" width="3" height="22" fill="#000"/><rect x="647" y="409" width="1" height="20" fill="#00ee00"/><rect x="650" y="394" width="1" height="20" fill="#000"/><rect x="649" y="399" width="3" height="11" fill="#000"/><rect x="650" y="400" width="1" height="9" fill="#00ee00"/><rect x="653" y="398" width="1" height="14" fill="#000"/><rect x="652" y="400" width="3" height="9" fill="#000"/><rect x="653" y="401" width="1" height="7" fill="#ff0000"/><rect x="656" y="382" width="1" height="28" fill="#000"/><rect x="655" y="405" width="3" height="3" fill="#000"/><rect x="656" y="406" width="1" height="1" fill="#ff0000"/><rect x="659" y="402" width="1" height="8" fill="#000"/><rect x="658" y="404" width="3" height="4" fill="#000"/><rect x="659" y="405" width="1" height="2" fill="#ff0000"/><rect x="662" y="402" width="1" height="7" fill="#000"/><rect x="661" y="406" width="3" height="2" fill="#000"/><rect x="665" y="429" width="1" height="43" fill="#000"/><rect x="664" y="430" width="3" height="36" fill="#000"/><rect x="665" y="431" width="1" height="34" fill="#ff0000"/><rect x="667" y="466" width="1" height="8" fill="#000"/><rect x="666" y="468" width="3" height="4" fill="#000"/><rect x="667" y="469" width="1" height="2" fill="#ff0000"/><rect x="670" y="472" width="1" height="27" fill="#000"/><rect x="669" y="474" width="3" height="17" fill="#000"/><rect x="670" y="475" width="1" height="15" fill="#ff0000"/><rect x="673" y="474" width="1" height="17" fill="#000"/><rect x="672" y="479" width="3" height="10" fill="#000"/><rect x="673" y="480" width="1" height="8" fill="#00ee00"/><rect x="676" y="474" width="1" height="12" fill="#000"/><rect x="675" y="479" width="3" height="2" fill="#000"/><rect x="679" y="470" width="1" height="13" fill="#000"/><rect x="678" y="472" width="3" height="10" fill="#000"/><rect x="679" y="473" width="1" height="8" fill="#00ee00"/><rect x="682" y="462" width="1" height="12" fill="#000"/><rect x="681" y="465" width="3" height="8" fill="#000"/><rect x="682" y="466" width="1" height="6" fill="#00ee00"/><rect x="685" y="447" width="1" height="20" fill="#000"/><rect x="684" y="452" width="3" height="14" fill="#000"/><rect x="685" y="453" width="1" height="12" fill="#00ee00"/><rect x="688" y="423" width="1" height="32" fill="#000"/><rect x="687" y="429" width="3" height="25" fill="#000"/><rect x="688" y="430" width="1" height="23" fill="#00ee00"/><rect x="691" y="426" width="1" height="14" fill="#000"/><rect x="690" y="430" width="3" height="9" fill="#000"/><rect x="691" y="431" width="1" height="7" fill="#ff0000"/><rect x="694" y="424" width="1" height="15" fill="#000"/><rect x="693" y="430" width="3" height="8" fill="#000"/><rect x="694" y="431" width="1" height="6" fill="#00ee00"/><rect x="697" y="430" width="1" height="11" fill="#000"/><rect x="696" y="434" width="3" height="5" fill="#000"/><rect x="697" y="435" width="1" height="3" fill="#ff0000"/><rect x="700" y="412" width="1" height="35" fill="#000"/><rect x="699" y="417" width="3" height="23" fill="#000"/><rect x="700" y="418" width="1" height="21" fill="#00ee00"/><rect x="703" y="412" width="1" height="32" fill="#000"/><rect x="702" y="417" width="3" height="26" fill="#000"/><rect x="703" y="418" width="1" height="24" fill="#ff0000"/><rect x="706" y="433" width="1" height="14" fill="#000"/><rect x="705" y="441" width="3" height="5" fill="#000"/><rect x="706" y="442" width="1" height="3" fill="#ff0000"/><rect x="709" y="396" width="1" height="31" fill="#000"/><rect x="708" y="412" width="3" height="14" fill="#000"/><rect x="709" y="413" width="1" height="12" fill="#ff0000"/><rect x="711" y="420" width="1" height="8" fill="#000"/><rect x="710" y="424" width="3" height="3" fill="#000"/><rect x="711" y="425" width="1" height="1" fill="#00ee00"/><rect x="714" y="404" width="1" height="20" fill="#000"/><rect x="713" y="411" width="3" height="9" fill="#000"/><rect x="714" y="412" width="1" height="7" fill="#00ee00"/><rect x="717" y="411" width="1" height="26" fill="#000"/><rect x="716" y="414" width="3" height="14" fill="#000"/><rect x="717" y="415" width="1" height="12" fill="#00ee00"/><rect x="720" y="360" width="1" height="54" fill="#000"/><rect x="719" y="406" width="3" height="7" fill="#000"/><rect x="720" y="407" width="1" height="5" fill="#00ee00"/><rect x="723" y="391" width="1" height="21" fill="#000"/><rect x="722" y="405" width="3" height="2" fill="#000"/><rect x="726" y="393" width="1" height="12" fill="#000"/><rect x="725" y="394" width="3" height="10" fill="#000"/><rect x="726" y="395" width="1" height="8" fill="#00ee00"/><rect x="729" y="385" width="1" height="12" fill="#000"/><rect x="728" y="392" width="3" height="3" fill="#000"/><rect x="729" y="393" width="1" height="1" fill="#00ee00"/><rect x="732" y="399" width="1" height="14" fill="#000"/><rect x="731" y="401" width="3" height="11" fill="#000"/><rect x="732" y="402" width="1" height="9" fill="#ff0000"/><rect x="735" y="409" width="1" height="8" fill="#000"/><rect x="734" y="414" width="3" height="2" fill="#000"/><rect x="738" y="413" width="1" height="21" fill="#000"/><rect x="737" y="414" width="3" height="18" fill="#000"/><rect x="738" y="415" width="1" height="16" fill="#ff0000"/><rect x="741" y="431" width="1" height="17" fill="#000"/><rect x="740" y="432" width="3" height="5" fill="#000"/><rect x="741" y="433" width="1" height="3" fill="#ff0000"/><rect x="744" y="423" width="1" height="17" fill="#000"/><rect x="743" y="424" width="3" height="11" fill="#000"/><rect x="744" y="425" width="1" height="9" fill="#00ee00"/><rect x="747" y="413" width="1" height="13" fill="#000"/><rect x="746" y="414" width="3" height="11" fill="#000"/><rect x="747" y="415" width="1" height="9" fill="#00ee00"/><rect x="750" y="394" width="1" height="23" fill="#000"/><rect x="749" y="396" width="3" height="20" fill="#000"/><rect x="750" y="397" width="1" height="18" fill="#00ee00"/><rect x="753" y="399" width="1" height="20" fill="#000"/><rect x="752" y="401" width="3" height="17" fill="#000"/><rect x="753" y="402" width="1" height="15" fill="#ff0000"/><rect x="756" y="417" width="1" height="22" fill="#000"/><rect x="755" y="418" width="3" height="11" fill="#000"/><rect x="756" y="419" width="1" height="9" fill="#ff0000"/><rect x="758" y="406" width="1" height="24" fill="#000"/><rect x="757" y="409" width="3" height="20" fill="#000"/><rect x="758" y="410" width="1" height="18" fill="#00ee00"/><rect x="761" y="408" width="1" height="17" fill="#000"/><rect x="760" y="410" width="3" height="14" fill="#000"/><rect x="761" y="411" width="1" height="12" fill="#ff0000"/><rect x="764" y="420" width="1" height="6" fill="#000"/><rect x="763" y="424" width="3" height="2" fill="#000"/><rect x="767" y="404" width="1" height="24" fill="#000"/><rect x="766" y="409" width="3" height="18" fill="#000"/><rect x="767" y="410" width="1" height="16" fill="#00ee00"/><rect x="770" y="363" width="1" height="48" fill="#000"/><rect x="769" y="364" width="3" height="46" fill="#000"/><rect x="770" y="365" width="1" height="44" fill="#00ee00"/><rect x="773" y="363" width="1" height="20" fill="#000"/><rect x="772" y="364" width="3" height="18" fill="#000"/><rect x="773" y="365" width="1" height="16" fill="#ff0000"/><rect x="776" y="375" width="1" height="8" fill="#000"/><rect x="775" y="376" width="3" height="6" fill="#000"/><rect x="776" y="377" width="1" height="4" fill="#ff0000"/><rect x="779" y="376" width="1" height="14" fill="#000"/><rect x="778" y="377" width="3" height="6" fill="#000"/><rect x="779" y="378" width="1" height="4" fill="#ff0000"/><rect x="782" y="382" width="1" height="34" fill="#000"/><rect x="781" y="383" width="3" height="32" fill="#000"/><rect x="782" y="384" width="1" height="30" fill="#ff0000"/><rect x="785" y="405" width="1" height="21" fill="#000"/><rect x="784" y="408" width="3" height="9" fill="#000"/><rect x="785" y="409" width="1" height="7" fill="#00ee00"/><rect x="788" y="406" width="1" height="14" fill="#000"/><rect x="787" y="409" width="3" height="10" fill="#000"/><rect x="788" y="410" width="1" height="8" fill="#ff0000"/><rect x="791" y="407" width="1" height="18" fill="#000"/><rect x="790" y="409" width="3" height="15" fill="#000"/><rect x="791" y="410" width="1" height="13" fill="#ff0000"/><rect x="794" y="408" width="1" height="29" fill="#000"/><rect x="793" y="409" width="3" height="15" fill="#000"/><rect x="794" y="410" width="1" height="13" fill="#00ee00"/><rect x="797" y="408" width="1" height="25" fill="#000"/><rect x="796" y="409" width="3" height="23" fill="#000"/><rect x="797" y="410" width="1" height="21" fill="#ff0000"/><rect x="800" y="428" width="1" height="11" fill="#000"/><rect x="799" y="431" width="3" height="3" fill="#000"/><rect x="800" y="432" width="1" height="1" fill="#00ee00"/><rect x="802" y="423" width="1" height="14" fill="#000"/><rect x="801" y="429" width="3" height="7" fill="#000"/><rect x="802" y="430" width="1" height="5" fill="#ff0000"/><rect x="805" y="431" width="1" height="9" fill="#000"/><rect x="804" y="432" width="3" height="7" fill="#000"/><rect x="805" y="433" width="1" height="5" fill="#ff0000"/><rect x="808" y="436" width="1" height="16" fill="#000"/><rect x="807" y="437" width="3" height="9" fill="#000"/><rect x="808" y="438" width="1" height="7" fill="#ff0000"/><rect x="811" y="445" width="1" height="11" fill="#000"/><rect x="810" y="446" width="3" height="6" fill="#000"/><rect x="811" y="447" width="1" height="4" fill="#ff0000"/><rect x="814" y="451" width="1" height="6" fill="#000"/><rect x="813" y="452" width="3" height="4" fill="#000"/><rect x="814" y="453" width="1" height="2" fill="#ff0000"/><rect x="817" y="437" width="1" height="25" fill="#000"/><rect x="816" y="438" width="3" height="23" fill="#000"/><rect x="817" y="439" width="1" height="21" fill="#00ee00"/><rect x="820" y="434" width="1" height="26" fill="#000"/><rect x="819" y="438" width="3" height="20" fill="#000"/><rect x="820" y="439" width="1" height="18" fill="#ff0000"/><rect x="823" y="436" width="1" height="32" fill="#000"/><rect x="822" y="440" width="3" height="21" fill="#000"/><rect x="823" y="441" width="1" height="19" fill="#00ee00"/><rect x="826" y="420" width="1" height="20" fill="#000"/><rect x="825" y="421" width="3" height="18" fill="#000"/><rect x="826" y="422" width="1" height="16" fill="#00ee00"/><rect x="829" y="409" width="1" height="27" fill="#000"/><rect x="828" y="415" width="3" height="20" fill="#000"/><rect x="829" y="416" width="1" height="18" fill="#00ee00"/><rect x="832" y="411" width="1" height="11" fill="#000"/><rect x="831" y="415" width="3" height="6" fill="#000"/><rect x="832" y="416" width="1" height="4" fill="#00ee00"/><rect x="835" y="407" width="1" height="10" fill="#000"/><rect x="834" y="408" width="3" height="4" fill="#000"/><rect x="835" y="409" width="1" height="2" fill="#00ee00"/><rect x="838" y="407" width="1" height="5" fill="#000"/><rect x="837" y="408" width="3" height="3" fill="#000"/><rect x="838" y="409" width="1" height="1" fill="#ff0000"/><rect x="841" y="377" width="1" height="35" fill="#000"/><rect x="840" y="378" width="3" height="33" fill="#000"/><rect x="841" y="379" width="1" height="31" fill="#00ee00"/><rect x="844" y="372" width="1" height="17" fill="#000"/><rect x="843" y="375" width="3" height="2" fill="#000"/><rect x="847" y="373" width="1" height="13" fill="#000"/><rect x="846" y="375" width="3" height="10" fill="#000"/><rect x="847" y="376" width="1" height="8" fill="#00ee00"/><rect x="849" y="371" width="1" height="9" fill="#000"/><rect x="848" y="375" width="3" height="4" fill="#000"/><rect x="849" y="376" width="1" height="2" fill="#00ee00"/><rect x="852" y="366" width="1" height="11" fill="#000"/><rect x="851" y="375" width="3" height="2" fill="#000"/><rect x="855" y="373" width="1" height="26" fill="#000"/><rect x="854" y="375" width="3" height="23" fill="#000"/><rect x="855" y="376" width="1" height="21" fill="#ff0000"/><rect x="858" y="396" width="1" height="20" fill="#000"/><rect x="857" y="397" width="3" height="8" fill="#000"/><rect x="858" y="398" width="1" height="6" fill="#00ee00"/><rect x="861" y="389" width="1" height="6" fill="#000"/><rect x="860" y="391" width="3" height="3" fill="#000"/><rect x="861" y="392" width="1" height="1" fill="#00ee00"/><rect x="864" y="388" width="1" height="6" fill="#000"/><rect x="863" y="392" width="3" height="2" fill="#000"/><rect x="867" y="379" width="1" height="19" fill="#000"/><rect x="866" y="393" width="3" height="4" fill="#000"/><rect x="867" y="394" width="1" height="2" fill="#ff0000"/><rect x="870" y="396" width="1" height="4" fill="#000"/><rect x="869" y="398" width="3" height="2" fill="#000"/><rect x="873" y="394" width="1" height="14" fill="#000"/><rect x="872" y="396" width="3" height="8" fill="#000"/><rect x="873" y="397" width="1" height="6" fill="#ff0000"/><rect x="876" y="405" width="1" height="21" fill="#000"/><rect x="875" y="406" width="3" height="16" fill="#000"/><rect x="876" y="407" width="1" height="14" fill="#ff0000"/><rect x="879" y="420" width="1" height="4" fill="#000"/><rect x="878" y="422" width="3" height="2" fill="#000"/><rect x="882" y="418" width="1" height="11" fill="#000"/><rect x="881" y="421" width="3" height="3" fill="#000"/><rect x="882" y="422" width="1" height="1" fill="#00ee00"/><rect x="885" y="421" width="1" height="9" fill="#000"/><rect x="884" y="422" width="3" height="6" fill="#000"/><rect x="885" y="423" width="1" height="4" fill="#ff0000"/><rect x="888" y="425" width="1" height="4" fill="#000"/><rect x="887" y="427" width="3" height="2" fill="#000"/><rect x="891" y="424" width="1" height="5" fill="#000"/><rect x="890" y="426" width="3" height="2" fill="#000"/><rect x="894" y="426" width="1" height="7" fill="#000"/><rect x="893" y="426" width="3" height="3" fill="#000"/><rect x="894" y="427" width="1" height="1" fill="#ff0000"/><rect x="896" y="430" width="1" height="11" fill="#000"/><rect x="895" y="431" width="3" height="9" fill="#000"/><rect x="896" y="432" width="1" height="7" fill="#ff0000"/><rect x="899" y="439" width="1" height="3" fill="#000"/><rect x="898" y="440" width="3" height="2" fill="#000"/><rect x="902" y="419" width="1" height="25" fill="#000"/><rect x="901" y="433" width="3" height="7" fill="#000"/><rect x="902" y="434" width="1" height="5" fill="#00ee00"/><rect x="905" y="428" width="1" height="17" fill="#000"/><rect x="904" y="433" width="3" height="10" fill="#000"/><rect x="905" y="434" width="1" height="8" fill="#ff0000"/><rect x="908" y="436" width="1" height="7" fill="#000"/><rect x="907" y="441" width="3" height="2" fill="#000"/><rect x="911" y="441" width="1" height="5" fill="#000"/><rect x="910" y="442" width="3" height="2" fill="#000"/><rect x="914" y="432" width="1" height="12" fill="#000"/><rect x="913" y="433" width="3" height="10" fill="#000"/><rect x="914" y="434" width="1" height="8" fill="#00ee00"/><rect x="917" y="425" width="1" height="8" fill="#000"/><rect x="916" y="426" width="3" height="7" fill="#000"/><rect x="917" y="427" width="1" height="5" fill="#00ee00"/><rect x="920" y="420" width="1" height="9" fill="#000"/><rect x="919" y="422" width="3" height="5" fill="#000"/><rect x="920" y="423" width="1" height="3" fill="#00ee00"/><rect x="923" y="402" width="1" height="22" fill="#000"/><rect x="922" y="402" width="3" height="21" fill="#000"/><rect x="923" y="403" width="1" height="19" fill="#00ee00"/><rect x="926" y="402" width="1" height="10" fill="#000"/><rect x="925" y="403" width="3" height="3" fill="#000"/><rect x="926" y="404" width="1" height="1" fill="#ff0000"/><rect x="929" y="405" width="1" height="7" fill="#000"/><rect x="928" y="406" width="3" height="3" fill="#000"/><rect x="929" y="407" width="1" height="1" fill="#ff0000"/><rect x="932" y="384" width="1" height="25" fill="#000"/><rect x="931" y="389" width="3" height="19" fill="#000"/><rect x="932" y="390" width="1" height="17" fill="#00ee00"/><rect x="935" y="387" width="1" height="15" fill="#000"/><rect x="934" y="389" width="3" height="13" fill="#000"/><rect x="935" y="390" width="1" height="11" fill="#ff0000"/><rect x="938" y="395" width="1" height="8" fill="#000"/><rect x="937" y="401" width="3" height="2" fill="#000"/><rect x="940" y="400" width="1" height="6" fill="#000"/><rect x="939" y="401" width="3" height="2" fill="#000"/><rect x="943" y="400" width="1" height="13" fill="#000"/><rect x="942" y="401" width="3" height="2" fill="#000"/><rect x="946" y="399" width="1" height="13" fill="#000"/><rect x="945" y="404" width="3" height="2" fill="#000"/><rect x="949" y="402" width="1" height="8" fill="#000"/><rect x="948" y="405" width="3" height="3" fill="#000"/><rect x="949" y="406" width="1" height="1" fill="#ff0000"/><rect x="952" y="398" width="1" height="9" fill="#000"/><rect x="951" y="405" width="3" height="2" fill="#000"/></g><g clip-path="url(#cv)"><rect x="67" y="588" width="3" height="5" fill="#000"/><rect x="68" y="589" width="1" height="4" fill="#00ee00"/><rect x="70" y="590" width="3" height="3" fill="#000"/><rect x="71" y="591" width="1" height="2" fill="#00ee00"/><rect x="73" y="587" width="3" height="6" fill="#000"/><rect x="74" y="588" width="1" height="5" fill="#ff0000"/><rect x="76" y="587" width="3" height="6" fill="#000"/><rect x="77" y="588" width="1" height="5" fill="#00ee00"/><rect x="79" y="585" width="3" height="8" fill="#000"/><rect x="80" y="586" width="1" height="7" fill="#ff0000"/><rect x="82" y="584" width="3" height="9" fill="#000"/><rect x="83" y="585" width="1" height="8" fill="#ff0000"/><rect x="85" y="584" width="3" height="9" fill="#000"/><rect x="86" y="585" width="1" height="8" fill="#00ee00"/><rect x="88" y="587" width="3" height="6" fill="#000"/><rect x="89" y="588" width="1" height="5" fill="#ff0000"/><rect x="91" y="587" width="3" height="6" fill="#000"/><rect x="92" y="588" width="1" height="5" fill="#00ee00"/><rect x="94" y="588" width="3" height="5" fill="#000"/><rect x="95" y="589" width="1" height="4" fill="#ff0000"/><rect x="97" y="588" width="3" height="5" fill="#000"/><rect x="98" y="589" width="1" height="4" fill="#ff0000"/><rect x="100" y="588" width="3" height="5" fill="#000"/><rect x="101" y="589" width="1" height="4" fill="#00ee00"/><rect x="103" y="590" width="3" height="3" fill="#000"/><rect x="104" y="591" width="1" height="2" fill="#00ee00"/><rect x="106" y="588" width="3" height="5" fill="#000"/><rect x="107" y="589" width="1" height="4" fill="#ff0000"/><rect x="109" y="589" width="3" height="4" fill="#000"/><rect x="110" y="590" width="1" height="3" fill="#00ee00"/><rect x="112" y="589" width="3" height="4" fill="#000"/><rect x="113" y="590" width="1" height="3" fill="#00ee00"/><rect x="114" y="589" width="3" height="4" fill="#000"/><rect x="115" y="590" width="1" height="3" fill="#00ee00"/><rect x="117" y="589" width="3" height="4" fill="#000"/><rect x="118" y="590" width="1" height="3" fill="#ff0000"/><rect x="120" y="588" width="3" height="5" fill="#000"/><rect x="121" y="589" width="1" height="4" fill="#ff0000"/><rect x="123" y="588" width="3" height="5" fill="#000"/><rect x="124" y="589" width="1" height="4" fill="#00ee00"/><rect x="126" y="591" width="3" height="2" fill="#000"/><rect x="127" y="592" width="1" height="1" fill="#00ee00"/><rect x="129" y="590" width="3" height="3" fill="#000"/><rect x="130" y="591" width="1" height="2" fill="#ff0000"/><rect x="132" y="590" width="3" height="3" fill="#000"/><rect x="133" y="591" width="1" height="2" fill="#00ee00"/><rect x="135" y="590" width="3" height="3" fill="#000"/><rect x="136" y="591" width="1" height="2" fill="#00ee00"/><rect x="138" y="590" width="3" height="3" fill="#000"/><rect x="139" y="591" width="1" height="2" fill="#00ee00"/><rect x="141" y="591" width="3" height="2" fill="#000"/><rect x="142" y="592" width="1" height="1" fill="#ff0000"/><rect x="144" y="591" width="3" height="2" fill="#000"/><rect x="145" y="592" width="1" height="1" fill="#ff0000"/><rect x="147" y="588" width="3" height="5" fill="#000"/><rect x="148" y="589" width="1" height="4" fill="#ff0000"/><rect x="150" y="589" width="3" height="4" fill="#000"/><rect x="151" y="590" width="1" height="3" fill="#00ee00"/><rect x="153" y="588" width="3" height="5" fill="#000"/><rect x="154" y="589" width="1" height="4" fill="#ff0000"/><rect x="156" y="589" width="3" height="4" fill="#000"/><rect x="157" y="590" width="1" height="3" fill="#ff0000"/><rect x="159" y="588" width="3" height="5" fill="#000"/><rect x="160" y="589" width="1" height="4" fill="#ff0000"/><rect x="161" y="586" width="3" height="7" fill="#000"/><rect x="162" y="587" width="1" height="6" fill="#00ee00"/><rect x="164" y="589" width="3" height="4" fill="#000"/><rect x="165" y="590" width="1" height="3" fill="#00ee00"/><rect x="167" y="590" width="3" height="3" fill="#000"/><rect x="168" y="591" width="1" height="2" fill="#00ee00"/><rect x="170" y="591" width="3" height="2" fill="#000"/><rect x="171" y="592" width="1" height="1" fill="#ff0000"/><rect x="173" y="591" width="3" height="2" fill="#000"/><rect x="174" y="592" width="1" height="1" fill="#00ee00"/><rect x="176" y="590" width="3" height="3" fill="#000"/><rect x="177" y="591" width="1" height="2" fill="#ff0000"/><rect x="179" y="590" width="3" height="3" fill="#000"/><rect x="180" y="591" width="1" height="2" fill="#00ee00"/><rect x="182" y="588" width="3" height="5" fill="#000"/><rect x="183" y="589" width="1" height="4" fill="#ff0000"/><rect x="185" y="590" width="3" height="3" fill="#000"/><rect x="186" y="591" width="1" height="2" fill="#ff0000"/><rect x="188" y="591" width="3" height="2" fill="#000"/><rect x="189" y="592" width="1" height="1" fill="#00ee00"/><rect x="191" y="589" width="3" height="4" fill="#000"/><rect x="192" y="590" width="1" height="3" fill="#00ee00"/><rect x="194" y="589" width="3" height="4" fill="#000"/><rect x="195" y="590" width="1" height="3" fill="#00ee00"/><rect x="197" y="586" width="3" height="7" fill="#000"/><rect x="198" y="587" width="1" height="6" fill="#00ee00"/><rect x="200" y="591" width="3" height="2" fill="#000"/><rect x="201" y="592" width="1" height="1" fill="#00ee00"/><rect x="203" y="591" width="3" height="2" fill="#000"/><rect x="204" y="592" width="1" height="1" fill="#00ee00"/><rect x="205" y="581" width="3" height="12" fill="#000"/><rect x="206" y="582" width="1" height="11" fill="#ff0000"/><rect x="208" y="587" width="3" height="6" fill="#000"/><rect x="209" y="588" width="1" height="5" fill="#ff0000"/><rect x="211" y="590" width="3" height="3" fill="#000"/><rect x="212" y="591" width="1" height="2" fill="#00ee00"/><rect x="214" y="590" width="3" height="3" fill="#000"/><rect x="215" y="591" width="1" height="2" fill="#ff0000"/><rect x="217" y="590" width="3" height="3" fill="#000"/><rect x="218" y="591" width="1" height="2" fill="#00ee00"/><rect x="220" y="591" width="3" height="2" fill="#000"/><rect x="221" y="592" width="1" height="1" fill="#00ee00"/><rect x="223" y="591" width="3" height="2" fill="#000"/><rect x="224" y="592" width="1" height="1" fill="#ff0000"/><rect x="226" y="591" width="3" height="2" fill="#000"/><rect x="227" y="592" width="1" height="1" fill="#ff0000"/><rect x="229" y="588" width="3" height="5" fill="#000"/><rect x="230" y="589" width="1" height="4" fill="#ff0000"/><rect x="232" y="590" width="3" height="3" fill="#000"/><rect x="233" y="591" width="1" height="2" fill="#00ee00"/><rect x="235" y="588" width="3" height="5" fill="#000"/><rect x="236" y="589" width="1" height="4" fill="#ff0000"/><rect x="238" y="590" width="3" height="3" fill="#000"/><rect x="239" y="591" width="1" height="2" fill="#00ee00"/><rect x="241" y="590" width="3" height="3" fill="#000"/><rect x="242" y="591" width="1" height="2" fill="#00ee00"/><rect x="244" y="590" width="3" height="3" fill="#000"/><rect x="245" y="591" width="1" height="2" fill="#ff0000"/><rect x="247" y="588" width="3" height="5" fill="#000"/><rect x="248" y="589" width="1" height="4" fill="#00ee00"/><rect x="250" y="590" width="3" height="3" fill="#000"/><rect x="251" y="591" width="1" height="2" fill="#00ee00"/><rect x="252" y="590" width="3" height="3" fill="#000"/><rect x="253" y="591" width="1" height="2" fill="#ff0000"/><rect x="255" y="588" width="3" height="5" fill="#000"/><rect x="256" y="589" width="1" height="4" fill="#ff0000"/><rect x="258" y="590" width="3" height="3" fill="#000"/><rect x="259" y="591" width="1" height="2" fill="#ff0000"/><rect x="261" y="588" width="3" height="5" fill="#000"/><rect x="262" y="589" width="1" height="4" fill="#00ee00"/><rect x="264" y="590" width="3" height="3" fill="#000"/><rect x="265" y="591" width="1" height="2" fill="#00ee00"/><rect x="267" y="588" width="3" height="5" fill="#000"/><rect x="268" y="589" width="1" height="4" fill="#ff0000"/><rect x="270" y="588" width="3" height="5" fill="#000"/><rect x="271" y="589" width="1" height="4" fill="#00ee00"/><rect x="273" y="583" width="3" height="10" fill="#000"/><rect x="274" y="584" width="1" height="9" fill="#ff0000"/><rect x="276" y="587" width="3" height="6" fill="#000"/><rect x="277" y="588" width="1" height="5" fill="#00ee00"/><rect x="279" y="588" width="3" height="5" fill="#000"/><rect x="280" y="589" width="1" height="4" fill="#00ee00"/><rect x="282" y="588" width="3" height="5" fill="#000"/><rect x="283" y="589" width="1" height="4" fill="#00ee00"/><rect x="285" y="588" width="3" height="5" fill="#000"/><rect x="286" y="589" width="1" height="4" fill="#ff0000"/><rect x="288" y="588" width="3" height="5" fill="#000"/><rect x="289" y="589" width="1" height="4" fill="#00ee00"/><rect x="291" y="590" width="3" height="3" fill="#000"/><rect x="292" y="591" width="1" height="2" fill="#00ee00"/><rect x="294" y="588" width="3" height="5" fill="#000"/><rect x="295" y="589" width="1" height="4" fill="#ff0000"/><rect x="297" y="591" width="3" height="2" fill="#000"/><rect x="298" y="592" width="1" height="1" fill="#ff0000"/><rect x="299" y="590" width="3" height="3" fill="#000"/><rect x="300" y="591" width="1" height="2" fill="#ff0000"/><rect x="302" y="590" width="3" height="3" fill="#000"/><rect x="303" y="591" width="1" height="2" fill="#00ee00"/><rect x="305" y="584" width="3" height="9" fill="#000"/><rect x="306" y="585" width="1" height="8" fill="#00ee00"/><rect x="308" y="587" width="3" height="6" fill="#000"/><rect x="309" y="588" width="1" height="5" fill="#ff0000"/><rect x="311" y="587" width="3" height="6" fill="#000"/><rect x="312" y="588" width="1" height="5" fill="#ff0000"/><rect x="314" y="587" width="3" height="6" fill="#000"/><rect x="315" y="588" width="1" height="5" fill="#00ee00"/><rect x="317" y="588" width="3" height="5" fill="#000"/><rect x="318" y="589" width="1" height="4" fill="#ff0000"/><rect x="320" y="587" width="3" height="6" fill="#000"/><rect x="321" y="588" width="1" height="5" fill="#ff0000"/><rect x="323" y="590" width="3" height="3" fill="#000"/><rect x="324" y="591" width="1" height="2" fill="#00ee00"/><rect x="326" y="591" width="3" height="2" fill="#000"/><rect x="327" y="592" width="1" height="1" fill="#00ee00"/><rect x="329" y="587" width="3" height="6" fill="#000"/><rect x="330" y="588" width="1" height="5" fill="#00ee00"/><rect x="332" y="590" width="3" height="3" fill="#000"/><rect x="333" y="591" width="1" height="2" fill="#ff0000"/><rect x="335" y="591" width="3" height="2" fill="#000"/><rect x="336" y="592" width="1" height="1" fill="#00ee00"/><rect x="338" y="591" width="3" height="2" fill="#000"/><rect x="339" y="592" width="1" height="1" fill="#00ee00"/><rect x="341" y="591" width="3" height="2" fill="#000"/><rect x="342" y="592" width="1" height="1" fill="#ff0000"/><rect x="343" y="588" width="3" height="5" fill="#000"/><rect x="344" y="589" width="1" height="4" fill="#ff0000"/><rect x="346" y="588" width="3" height="5" fill="#000"/><rect x="347" y="589" width="1" height="4" fill="#00ee00"/><rect x="349" y="584" width="3" height="9" fill="#000"/><rect x="350" y="585" width="1" height="8" fill="#00ee00"/><rect x="352" y="590" width="3" height="3" fill="#000"/><rect x="353" y="591" width="1" height="2" fill="#00ee00"/><rect x="355" y="591" width="3" height="2" fill="#000"/><rect x="356" y="592" width="1" height="1" fill="#00ee00"/><rect x="358" y="588" width="3" height="5" fill="#000"/><rect x="359" y="589" width="1" height="4" fill="#00ee00"/><rect x="361" y="588" width="3" height="5" fill="#000"/><rect x="362" y="589" width="1" height="4" fill="#00ee00"/><rect x="364" y="590" width="3" height="3" fill="#000"/><rect x="365" y="591" width="1" height="2" fill="#ff0000"/><rect x="367" y="587" width="3" height="6" fill="#000"/><rect x="368" y="588" width="1" height="5" fill="#ff0000"/><rect x="370" y="587" width="3" height="6" fill="#000"/><rect x="371" y="588" width="1" height="5" fill="#ff0000"/><rect x="373" y="588" width="3" height="5" fill="#000"/><rect x="374" y="589" width="1" height="4" fill="#ff0000"/><rect x="376" y="586" width="3" height="7" fill="#000"/><rect x="377" y="587" width="1" height="6" fill="#ff0000"/><rect x="379" y="588" width="3" height="5" fill="#000"/><rect x="380" y="589" width="1" height="4" fill="#00ee00"/><rect x="382" y="587" width="3" height="6" fill="#000"/><rect x="383" y="588" width="1" height="5" fill="#00ee00"/><rect x="385" y="587" width="3" height="6" fill="#000"/><rect x="386" y="588" width="1" height="5" fill="#ff0000"/><rect x="388" y="587" width="3" height="6" fill="#000"/><rect x="389" y="588" width="1" height="5" fill="#ff0000"/><rect x="390" y="588" width="3" height="5" fill="#000"/><rect x="391" y="589" width="1" height="4" fill="#00ee00"/><rect x="393" y="588" width="3" height="5" fill="#000"/><rect x="394" y="589" width="1" height="4" fill="#00ee00"/><rect x="396" y="588" width="3" height="5" fill="#000"/><rect x="397" y="589" width="1" height="4" fill="#ff0000"/><rect x="399" y="588" width="3" height="5" fill="#000"/><rect x="400" y="589" width="1" height="4" fill="#ff0000"/><rect x="402" y="586" width="3" height="7" fill="#000"/><rect x="403" y="587" width="1" height="6" fill="#ff0000"/><rect x="405" y="584" width="3" height="9" fill="#000"/><rect x="406" y="585" width="1" height="8" fill="#ff0000"/><rect x="408" y="586" width="3" height="7" fill="#000"/><rect x="409" y="587" width="1" height="6" fill="#00ee00"/><rect x="411" y="587" width="3" height="6" fill="#000"/><rect x="412" y="588" width="1" height="5" fill="#ff0000"/><rect x="414" y="587" width="3" height="6" fill="#000"/><rect x="415" y="588" width="1" height="5" fill="#00ee00"/><rect x="417" y="587" width="3" height="6" fill="#000"/><rect x="418" y="588" width="1" height="5" fill="#00ee00"/><rect x="420" y="586" width="3" height="7" fill="#000"/><rect x="421" y="587" width="1" height="6" fill="#ff0000"/><rect x="423" y="582" width="3" height="11" fill="#000"/><rect x="424" y="583" width="1" height="10" fill="#ff0000"/><rect x="426" y="578" width="3" height="15" fill="#000"/><rect x="427" y="579" width="1" height="14" fill="#ff0000"/><rect x="429" y="587" width="3" height="6" fill="#000"/><rect x="430" y="588" width="1" height="5" fill="#00ee00"/><rect x="432" y="583" width="3" height="10" fill="#000"/><rect x="433" y="584" width="1" height="9" fill="#00ee00"/><rect x="435" y="588" width="3" height="5" fill="#000"/><rect x="436" y="589" width="1" height="4" fill="#ff0000"/><rect x="437" y="587" width="3" height="6" fill="#000"/><rect x="438" y="588" width="1" height="5" fill="#00ee00"/><rect x="440" y="587" width="3" height="6" fill="#000"/><rect x="441" y="588" width="1" height="5" fill="#00ee00"/><rect x="443" y="587" width="3" height="6" fill="#000"/><rect x="444" y="588" width="1" height="5" fill="#00ee00"/><rect x="446" y="582" width="3" height="11" fill="#000"/><rect x="447" y="583" width="1" height="10" fill="#ff0000"/><rect x="449" y="587" width="3" height="6" fill="#000"/><rect x="450" y="588" width="1" height="5" fill="#00ee00"/><rect x="452" y="587" width="3" height="6" fill="#000"/><rect x="453" y="588" width="1" height="5" fill="#ff0000"/><rect x="455" y="583" width="3" height="10" fill="#000"/><rect x="456" y="584" width="1" height="9" fill="#ff0000"/><rect x="458" y="583" width="3" height="10" fill="#000"/><rect x="459" y="584" width="1" height="9" fill="#ff0000"/><rect x="461" y="588" width="3" height="5" fill="#000"/><rect x="462" y="589" width="1" height="4" fill="#00ee00"/><rect x="464" y="576" width="3" height="17" fill="#000"/><rect x="465" y="577" width="1" height="16" fill="#ff0000"/><rect x="467" y="577" width="3" height="16" fill="#000"/><rect x="468" y="578" width="1" height="15" fill="#ff0000"/><rect x="470" y="572" width="3" height="21" fill="#000"/><rect x="471" y="573" width="1" height="20" fill="#ff0000"/><rect x="473" y="567" width="3" height="26" fill="#000"/><rect x="474" y="568" width="1" height="25" fill="#ff0000"/><rect x="476" y="570" width="3" height="23" fill="#000"/><rect x="477" y="571" width="1" height="22" fill="#00ee00"/><rect x="479" y="575" width="3" height="18" fill="#000"/><rect x="480" y="576" width="1" height="17" fill="#ff0000"/><rect x="481" y="569" width="3" height="24" fill="#000"/><rect x="482" y="570" width="1" height="23" fill="#00ee00"/><rect x="484" y="577" width="3" height="16" fill="#000"/><rect x="485" y="578" width="1" height="15" fill="#ff0000"/><rect x="487" y="578" width="3" height="15" fill="#000"/><rect x="488" y="579" width="1" height="14" fill="#00ee00"/><rect x="490" y="579" width="3" height="14" fill="#000"/><rect x="491" y="580" width="1" height="13" fill="#ff0000"/><rect x="493" y="587" width="3" height="6" fill="#000"/><rect x="494" y="588" width="1" height="5" fill="#00ee00"/><rect x="496" y="579" width="3" height="14" fill="#000"/><rect x="497" y="580" width="1" height="13" fill="#ff0000"/><rect x="499" y="581" width="3" height="12" fill="#000"/><rect x="500" y="582" width="1" height="11" fill="#ff0000"/><rect x="502" y="573" width="3" height="20" fill="#000"/><rect x="503" y="574" width="1" height="19" fill="#ff0000"/><rect x="505" y="567" width="3" height="26" fill="#000"/><rect x="506" y="568" width="1" height="25" fill="#ff0000"/><rect x="508" y="584" width="3" height="9" fill="#000"/><rect x="509" y="585" width="1" height="8" fill="#00ee00"/><rect x="511" y="583" width="3" height="10" fill="#000"/><rect x="512" y="584" width="1" height="9" fill="#00ee00"/><rect x="514" y="583" width="3" height="10" fill="#000"/><rect x="515" y="584" width="1" height="9" fill="#00ee00"/><rect x="517" y="583" width="3" height="10" fill="#000"/><rect x="518" y="584" width="1" height="9" fill="#00ee00"/><rect x="520" y="572" width="3" height="21" fill="#000"/><rect x="521" y="573" width="1" height="20" fill="#ff0000"/><rect x="523" y="578" width="3" height="15" fill="#000"/><rect x="524" y="579" width="1" height="14" fill="#ff0000"/><rect x="526" y="578" width="3" height="15" fill="#000"/><rect x="527" y="579" width="1" height="14" fill="#ff0000"/><rect x="528" y="572" width="3" height="21" fill="#000"/><rect x="529" y="573" width="1" height="20" fill="#00ee00"/><rect x="531" y="576" width="3" height="17" fill="#000"/><rect x="532" y="577" width="1" height="16" fill="#ff0000"/><rect x="534" y="571" width="3" height="22" fill="#000"/><rect x="535" y="572" width="1" height="21" fill="#ff0000"/><rect x="537" y="572" width="3" height="21" fill="#000"/><rect x="538" y="573" width="1" height="20" fill="#ff0000"/><rect x="540" y="559" width="3" height="34" fill="#000"/><rect x="541" y="560" width="1" height="33" fill="#ff0000"/><rect x="543" y="573" width="3" height="20" fill="#000"/><rect x="544" y="574" width="1" height="19" fill="#ff0000"/><rect x="546" y="573" width="3" height="20" fill="#000"/><rect x="547" y="574" width="1" height="19" fill="#00ee00"/><rect x="549" y="583" width="3" height="10" fill="#000"/><rect x="550" y="584" width="1" height="9" fill="#ff0000"/><rect x="552" y="578" width="3" height="15" fill="#000"/><rect x="553" y="579" width="1" height="14" fill="#00ee00"/><rect x="555" y="584" width="3" height="9" fill="#000"/><rect x="556" y="585" width="1" height="8" fill="#00ee00"/><rect x="558" y="577" width="3" height="16" fill="#000"/><rect x="559" y="578" width="1" height="15" fill="#00ee00"/><rect x="561" y="579" width="3" height="14" fill="#000"/><rect x="562" y="580" width="1" height="13" fill="#ff0000"/><rect x="564" y="576" width="3" height="17" fill="#000"/><rect x="565" y="577" width="1" height="16" fill="#ff0000"/><rect x="567" y="577" width="3" height="16" fill="#000"/><rect x="568" y="578" width="1" height="15" fill="#ff0000"/><rect x="570" y="580" width="3" height="13" fill="#000"/><rect x="571" y="581" width="1" height="12" fill="#00ee00"/><rect x="572" y="574" width="3" height="19" fill="#000"/><rect x="573" y="575" width="1" height="18" fill="#00ee00"/><rect x="575" y="577" width="3" height="16" fill="#000"/><rect x="576" y="578" width="1" height="15" fill="#00ee00"/><rect x="578" y="576" width="3" height="17" fill="#000"/><rect x="579" y="577" width="1" height="16" fill="#ff0000"/><rect x="581" y="585" width="3" height="8" fill="#000"/><rect x="582" y="586" width="1" height="7" fill="#ff0000"/><rect x="584" y="585" width="3" height="8" fill="#000"/><rect x="585" y="586" width="1" height="7" fill="#00ee00"/><rect x="587" y="585" width="3" height="8" fill="#000"/><rect x="588" y="586" width="1" height="7" fill="#ff0000"/><rect x="590" y="585" width="3" height="8" fill="#000"/><rect x="591" y="586" width="1" height="7" fill="#00ee00"/><rect x="593" y="584" width="3" height="9" fill="#000"/><rect x="594" y="585" width="1" height="8" fill="#00ee00"/><rect x="596" y="584" width="3" height="9" fill="#000"/><rect x="597" y="585" width="1" height="8" fill="#ff0000"/><rect x="599" y="585" width="3" height="8" fill="#000"/><rect x="600" y="586" width="1" height="7" fill="#ff0000"/><rect x="602" y="567" width="3" height="26" fill="#000"/><rect x="603" y="568" width="1" height="25" fill="#ff0000"/><rect x="605" y="568" width="3" height="25" fill="#000"/><rect x="606" y="569" width="1" height="24" fill="#ff0000"/><rect x="608" y="576" width="3" height="17" fill="#000"/><rect x="609" y="577" width="1" height="16" fill="#00ee00"/><rect x="611" y="585" width="3" height="8" fill="#000"/><rect x="612" y="586" width="1" height="7" fill="#00ee00"/><rect x="614" y="584" width="3" height="9" fill="#000"/><rect x="615" y="585" width="1" height="8" fill="#ff0000"/><rect x="617" y="579" width="3" height="14" fill="#000"/><rect x="618" y="580" width="1" height="13" fill="#ff0000"/><rect x="619" y="574" width="3" height="19" fill="#000"/><rect x="620" y="575" width="1" height="18" fill="#ff0000"/><rect x="622" y="576" width="3" height="17" fill="#000"/><rect x="623" y="577" width="1" height="16" fill="#00ee00"/><rect x="625" y="581" width="3" height="12" fill="#000"/><rect x="626" y="582" width="1" height="11" fill="#ff0000"/><rect x="628" y="581" width="3" height="12" fill="#000"/><rect x="629" y="582" width="1" height="11" fill="#ff0000"/><rect x="631" y="578" width="3" height="15" fill="#000"/><rect x="632" y="579" width="1" height="14" fill="#ff0000"/><rect x="634" y="574" width="3" height="19" fill="#000"/><rect x="635" y="575" width="1" height="18" fill="#00ee00"/><rect x="637" y="576" width="3" height="17" fill="#000"/><rect x="638" y="577" width="1" height="16" fill="#00ee00"/><rect x="640" y="574" width="3" height="19" fill="#000"/><rect x="641" y="575" width="1" height="18" fill="#ff0000"/><rect x="643" y="576" width="3" height="17" fill="#000"/><rect x="644" y="577" width="1" height="16" fill="#00ee00"/><rect x="646" y="585" width="3" height="8" fill="#000"/><rect x="647" y="586" width="1" height="7" fill="#00ee00"/><rect x="649" y="578" width="3" height="15" fill="#000"/><rect x="650" y="579" width="1" height="14" fill="#00ee00"/><rect x="652" y="574" width="3" height="19" fill="#000"/><rect x="653" y="575" width="1" height="18" fill="#ff0000"/><rect x="655" y="567" width="3" height="26" fill="#000"/><rect x="656" y="568" width="1" height="25" fill="#ff0000"/><rect x="658" y="577" width="3" height="16" fill="#000"/><rect x="659" y="578" width="1" height="15" fill="#ff0000"/><rect x="661" y="579" width="3" height="14" fill="#000"/><rect x="662" y="580" width="1" height="13" fill="#ff0000"/><rect x="664" y="544" width="3" height="49" fill="#000"/><rect x="665" y="545" width="1" height="48" fill="#ff0000"/><rect x="666" y="556" width="3" height="37" fill="#000"/><rect x="667" y="557" width="1" height="36" fill="#ff0000"/><rect x="669" y="564" width="3" height="29" fill="#000"/><rect x="670" y="565" width="1" height="28" fill="#ff0000"/><rect x="672" y="574" width="3" height="19" fill="#000"/><rect x="673" y="575" width="1" height="18" fill="#00ee00"/><rect x="675" y="566" width="3" height="27" fill="#000"/><rect x="676" y="567" width="1" height="26" fill="#00ee00"/><rect x="678" y="577" width="3" height="16" fill="#000"/><rect x="679" y="578" width="1" height="15" fill="#00ee00"/><rect x="681" y="568" width="3" height="25" fill="#000"/><rect x="682" y="569" width="1" height="24" fill="#00ee00"/><rect x="684" y="575" width="3" height="18" fill="#000"/><rect x="685" y="576" width="1" height="17" fill="#00ee00"/><rect x="687" y="567" width="3" height="26" fill="#000"/><rect x="688" y="568" width="1" height="25" fill="#00ee00"/><rect x="690" y="573" width="3" height="20" fill="#000"/><rect x="691" y="574" width="1" height="19" fill="#ff0000"/><rect x="693" y="552" width="3" height="41" fill="#000"/><rect x="694" y="553" width="1" height="40" fill="#00ee00"/><rect x="696" y="578" width="3" height="15" fill="#000"/><rect x="697" y="579" width="1" height="14" fill="#ff0000"/><rect x="699" y="574" width="3" height="19" fill="#000"/><rect x="700" y="575" width="1" height="18" fill="#00ee00"/><rect x="702" y="578" width="3" height="15" fill="#000"/><rect x="703" y="579" width="1" height="14" fill="#ff0000"/><rect x="705" y="578" width="3" height="15" fill="#000"/><rect x="706" y="579" width="1" height="14" fill="#ff0000"/><rect x="708" y="566" width="3" height="27" fill="#000"/><rect x="709" y="567" width="1" height="26" fill="#ff0000"/><rect x="710" y="581" width="3" height="12" fill="#000"/><rect x="711" y="582" width="1" height="11" fill="#00ee00"/><rect x="713" y="578" width="3" height="15" fill="#000"/><rect x="714" y="579" width="1" height="14" fill="#00ee00"/><rect x="716" y="569" width="3" height="24" fill="#000"/><rect x="717" y="570" width="1" height="23" fill="#00ee00"/><rect x="719" y="549" width="3" height="44" fill="#000"/><rect x="720" y="550" width="1" height="43" fill="#00ee00"/><rect x="722" y="572" width="3" height="21" fill="#000"/><rect x="723" y="573" width="1" height="20" fill="#00ee00"/><rect x="725" y="582" width="3" height="11" fill="#000"/><rect x="726" y="583" width="1" height="10" fill="#00ee00"/><rect x="728" y="579" width="3" height="14" fill="#000"/><rect x="729" y="580" width="1" height="13" fill="#00ee00"/><rect x="731" y="579" width="3" height="14" fill="#000"/><rect x="732" y="580" width="1" height="13" fill="#ff0000"/><rect x="734" y="584" width="3" height="9" fill="#000"/><rect x="735" y="585" width="1" height="8" fill="#ff0000"/><rect x="737" y="578" width="3" height="15" fill="#000"/><rect x="738" y="579" width="1" height="14" fill="#ff0000"/><rect x="740" y="581" width="3" height="12" fill="#000"/><rect x="741" y="582" width="1" height="11" fill="#ff0000"/><rect x="743" y="578" width="3" height="15" fill="#000"/><rect x="744" y="579" width="1" height="14" fill="#00ee00"/><rect x="746" y="582" width="3" height="11" fill="#000"/><rect x="747" y="583" width="1" height="10" fill="#00ee00"/><rect x="749" y="578" width="3" height="15" fill="#000"/><rect x="750" y="579" width="1" height="14" fill="#00ee00"/><rect x="752" y="577" width="3" height="16" fill="#000"/><rect x="753" y="578" width="1" height="15" fill="#ff0000"/><rect x="755" y="574" width="3" height="19" fill="#000"/><rect x="756" y="575" width="1" height="18" fill="#ff0000"/><rect x="757" y="581" width="3" height="12" fill="#000"/><rect x="758" y="582" width="1" height="11" fill="#00ee00"/><rect x="760" y="582" width="3" height="11" fill="#000"/><rect x="761" y="583" width="1" height="10" fill="#ff0000"/><rect x="763" y="583" width="3" height="10" fill="#000"/><rect x="764" y="584" width="1" height="9" fill="#ff0000"/><rect x="766" y="583" width="3" height="10" fill="#000"/><rect x="767" y="584" width="1" height="9" fill="#00ee00"/><rect x="769" y="567" width="3" height="26" fill="#000"/><rect x="770" y="568" width="1" height="25" fill="#00ee00"/><rect x="772" y="573" width="3" height="20" fill="#000"/><rect x="773" y="574" width="1" height="19" fill="#ff0000"/><rect x="775" y="584" width="3" height="9" fill="#000"/><rect x="776" y="585" width="1" height="8" fill="#ff0000"/><rect x="778" y="585" width="3" height="8" fill="#000"/><rect x="779" y="586" width="1" height="7" fill="#ff0000"/><rect x="781" y="579" width="3" height="14" fill="#000"/><rect x="782" y="580" width="1" height="13" fill="#ff0000"/><rect x="784" y="577" width="3" height="16" fill="#000"/><rect x="785" y="578" width="1" height="15" fill="#00ee00"/><rect x="787" y="584" width="3" height="9" fill="#000"/><rect x="788" y="585" width="1" height="8" fill="#ff0000"/><rect x="790" y="584" width="3" height="9" fill="#000"/><rect x="791" y="585" width="1" height="8" fill="#ff0000"/><rect x="793" y="576" width="3" height="17" fill="#000"/><rect x="794" y="577" width="1" height="16" fill="#00ee00"/><rect x="796" y="581" width="3" height="12" fill="#000"/><rect x="797" y="582" width="1" height="11" fill="#ff0000"/><rect x="799" y="581" width="3" height="12" fill="#000"/><rect x="800" y="582" width="1" height="11" fill="#00ee00"/><rect x="801" y="582" width="3" height="11" fill="#000"/><rect x="802" y="583" width="1" height="10" fill="#ff0000"/><rect x="804" y="582" width="3" height="11" fill="#000"/><rect x="805" y="583" width="1" height="10" fill="#ff0000"/><rect x="807" y="580" width="3" height="13" fill="#000"/><rect x="808" y="581" width="1" height="12" fill="#ff0000"/><rect x="810" y="572" width="3" height="21" fill="#000"/><rect x="811" y="573" width="1" height="20" fill="#ff0000"/><rect x="813" y="584" width="3" height="9" fill="#000"/><rect x="814" y="585" width="1" height="8" fill="#ff0000"/><rect x="816" y="581" width="3" height="12" fill="#000"/><rect x="817" y="582" width="1" height="11" fill="#00ee00"/><rect x="819" y="578" width="3" height="15" fill="#000"/><rect x="820" y="579" width="1" height="14" fill="#ff0000"/><rect x="822" y="578" width="3" height="15" fill="#000"/><rect x="823" y="579" width="1" height="14" fill="#00ee00"/><rect x="825" y="580" width="3" height="13" fill="#000"/><rect x="826" y="581" width="1" height="12" fill="#00ee00"/><rect x="828" y="573" width="3" height="20" fill="#000"/><rect x="829" y="574" width="1" height="19" fill="#00ee00"/><rect x="831" y="580" width="3" height="13" fill="#000"/><rect x="832" y="581" width="1" height="12" fill="#00ee00"/><rect x="834" y="586" width="3" height="7" fill="#000"/><rect x="835" y="587" width="1" height="6" fill="#00ee00"/><rect x="837" y="586" width="3" height="7" fill="#000"/><rect x="838" y="587" width="1" height="6" fill="#ff0000"/><rect x="840" y="573" width="3" height="20" fill="#000"/><rect x="841" y="574" width="1" height="19" fill="#00ee00"/><rect x="843" y="575" width="3" height="18" fill="#000"/><rect x="844" y="576" width="1" height="17" fill="#00ee00"/><rect x="846" y="581" width="3" height="12" fill="#000"/><rect x="847" y="582" width="1" height="11" fill="#00ee00"/><rect x="848" y="582" width="3" height="11" fill="#000"/><rect x="849" y="583" width="1" height="10" fill="#00ee00"/><rect x="851" y="583" width="3" height="10" fill="#000"/><rect x="852" y="584" width="1" height="9" fill="#00ee00"/><rect x="854" y="580" width="3" height="13" fill="#000"/><rect x="855" y="581" width="1" height="12" fill="#ff0000"/><rect x="857" y="577" width="3" height="16" fill="#000"/><rect x="858" y="578" width="1" height="15" fill="#00ee00"/><rect x="860" y="585" width="3" height="8" fill="#000"/><rect x="861" y="586" width="1" height="7" fill="#00ee00"/><rect x="863" y="585" width="3" height="8" fill="#000"/><rect x="864" y="586" width="1" height="7" fill="#00ee00"/><rect x="866" y="580" width="3" height="13" fill="#000"/><rect x="867" y="581" width="1" height="12" fill="#ff0000"/><rect x="869" y="584" width="3" height="9" fill="#000"/><rect x="870" y="585" width="1" height="8" fill="#ff0000"/><rect x="872" y="584" width="3" height="9" fill="#000"/><rect x="873" y="585" width="1" height="8" fill="#ff0000"/><rect x="875" y="581" width="3" height="12" fill="#000"/><rect x="876" y="582" width="1" height="11" fill="#ff0000"/><rect x="878" y="585" width="3" height="8" fill="#000"/><rect x="879" y="586" width="1" height="7" fill="#ff0000"/><rect x="881" y="583" width="3" height="10" fill="#000"/><rect x="882" y="584" width="1" height="9" fill="#00ee00"/><rect x="884" y="586" width="3" height="7" fill="#000"/><rect x="885" y="587" width="1" height="6" fill="#ff0000"/><rect x="887" y="585" width="3" height="8" fill="#000"/><rect x="888" y="586" width="1" height="7" fill="#00ee00"/><rect x="890" y="584" width="3" height="9" fill="#000"/><rect x="891" y="585" width="1" height="8" fill="#00ee00"/><rect x="893" y="584" width="3" height="9" fill="#000"/><rect x="894" y="585" width="1" height="8" fill="#ff0000"/><rect x="895" y="584" width="3" height="9" fill="#000"/><rect x="896" y="585" width="1" height="8" fill="#ff0000"/><rect x="898" y="585" width="3" height="8" fill="#000"/><rect x="899" y="586" width="1" height="7" fill="#ff0000"/><rect x="901" y="578" width="3" height="15" fill="#000"/><rect x="902" y="579" width="1" height="14" fill="#00ee00"/><rect x="904" y="583" width="3" height="10" fill="#000"/><rect x="905" y="584" width="1" height="9" fill="#ff0000"/><rect x="907" y="585" width="3" height="8" fill="#000"/><rect x="908" y="586" width="1" height="7" fill="#00ee00"/><rect x="910" y="583" width="3" height="10" fill="#000"/><rect x="911" y="584" width="1" height="9" fill="#ff0000"/><rect x="913" y="584" width="3" height="9" fill="#000"/><rect x="914" y="585" width="1" height="8" fill="#00ee00"/><rect x="916" y="585" width="3" height="8" fill="#000"/><rect x="917" y="586" width="1" height="7" fill="#00ee00"/><rect x="919" y="585" width="3" height="8" fill="#000"/><rect x="920" y="586" width="1" height="7" fill="#00ee00"/><rect x="922" y="581" width="3" height="12" fill="#000"/><rect x="923" y="582" width="1" height="11" fill="#00ee00"/><rect x="925" y="574" width="3" height="19" fill="#000"/><rect x="926" y="575" width="1" height="18" fill="#ff0000"/><rect x="928" y="586" width="3" height="7" fill="#000"/><rect x="929" y="587" width="1" height="6" fill="#ff0000"/><rect x="931" y="583" width="3" height="10" fill="#000"/><rect x="932" y="584" width="1" height="9" fill="#00ee00"/><rect x="934" y="585" width="3" height="8" fill="#000"/><rect x="935" y="586" width="1" height="7" fill="#ff0000"/><rect x="937" y="585" width="3" height="8" fill="#000"/><rect x="938" y="586" width="1" height="7" fill="#ff0000"/><rect x="939" y="588" width="3" height="5" fill="#000"/><rect x="940" y="589" width="1" height="4" fill="#ff0000"/><rect x="942" y="584" width="3" height="9" fill="#000"/><rect x="943" y="585" width="1" height="8" fill="#00ee00"/><rect x="945" y="585" width="3" height="8" fill="#000"/><rect x="946" y="586" width="1" height="7" fill="#ff0000"/><rect x="948" y="583" width="3" height="10" fill="#000"/><rect x="949" y="584" width="1" height="9" fill="#ff0000"/><rect x="951" y="587" width="3" height="6" fill="#000"/><rect x="952" y="588" width="1" height="5" fill="#00ee00"/></g><g clip-path="url(#cp)" fill="none"><path d="M71.6,211.3 L84.5,210.4 L95.6,209.3 L110.4,208.5 L125.3,207.6 L140.1,206.5 L154.9,205.6 L169.7,204.3 L184.5,202.8 L199.3,200.6 L214.1,198.7 L229.0,196.9 L243.8,194.4 L289.6,187.6 L304.4,185.2 L319.3,183.9 L334.1,181.5 L348.9,179.3 L363.7,177.4 L378.5,175.2 L393.3,173.7 L404.4,172.8 L415.6,172.4 L426.7,172.2 L437.8,171.9 L448.9,171.5 L450.0,170.8 L464.4,171.3 L478.9,173.2 L493.3,174.9 L507.8,176.1 L522.2,177.3 L536.7,178.5 L551.1,180.4 L565.6,182.1 L580.0,184.5 L594.4,186.9 L608.9,191.0 L623.3,194.2 L637.8,197.8 L652.2,203.1 L666.7,207.4 L681.1,211.0 L695.5,214.6 L704.7,216.3 L714.5,219.2 L726.8,222.9 L739.0,226.1 L751.3,230.2 L763.5,233.9 L775.8,237.6 L788.0,241.8 L800.3,246.2 L812.5,251.1 L824.8,256.0 L837.1,260.9 L849.3,265.8 L861.6,270.7 L873.8,275.6 L886.1,281.7 L898.3,287.8 L910.6,294.0 L922.8,300.1 L935.1,306.2 L949.8,317.3" stroke="#1e8c1e" stroke-width="1.3" stroke-dasharray="5 4"/><path d="M67.9,192.2 L75.3,190.4 L84.5,188.5 L93.8,187.0 L103.0,185.7 L114.1,183.9 L125.3,182.4 L136.4,181.1 L147.5,179.6 L158.6,178.9 L169.7,178.3 L180.8,177.8 L191.9,176.5 L203.0,174.6 L214.1,172.8 L225.3,171.5 L236.4,170.6 L247.5,169.1 L258.6,168.1 L260.0,169.1 L271.1,167.8 L282.2,167.2 L293.3,166.3 L304.4,165.9 L315.6,165.4 L326.7,165.0 L337.8,164.8 L348.9,164.4 L360.0,164.1 L371.1,163.5 L382.2,163.0 L393.3,162.2 L404.4,161.1 L415.6,161.1 L426.7,162.2 L437.8,163.5 L448.9,164.4 L450.0,164.1 L464.4,166.0 L478.9,170.1 L493.3,173.7 L507.8,176.1 L522.2,180.4 L536.7,185.7 L551.1,193.0 L565.6,200.2 L580.0,206.2 L594.4,211.0 L608.9,218.2 L623.3,226.7 L637.8,237.5 L652.2,248.3 L664.3,260.0 L672.6,266.5 L681.9,274.8 L691.1,285.0 L700.4,294.3 L709.6,301.7 L718.9,310.0 L728.1,315.6 L737.4,323.9 L746.7,331.3 L755.9,337.8 L758.5,340.0 L769.6,345.6 L780.7,351.1 L791.9,358.5 L800.0,363.1 L809.3,373.3 L818.5,381.7 L827.8,387.2 L837.0,390.0 L846.3,391.9 L855.6,394.6 L864.8,397.4 L874.1,402.0 L883.3,404.8 L892.6,409.4 L901.9,413.1 L911.1,416.9 L920.4,418.7 L929.6,419.3 L938.9,418.9 L948.1,417.8" stroke="#ffb43c" stroke-width="1.1"/><path d="M67.9,172.4 L77.1,169.1 L84.5,169.1 L93.8,170.0 L103.0,171.9 L114.1,172.4 L125.3,171.5 L136.4,170.9 L147.5,170.4 L158.6,171.5 L169.7,172.8 L180.8,173.7 L195.6,174.6 L210.4,175.6 L219.7,176.5 L229.0,174.6 L236.4,171.9 L247.5,168.1 L256.7,165.9 L266.0,164.8 L271.1,161.7 L282.2,163.0 L293.3,162.2 L304.4,160.7 L315.6,159.8 L326.7,159.8 L337.8,158.9 L348.9,157.0 L360.0,154.8 L371.1,155.2 L382.2,155.2 L393.3,155.2 L404.4,156.7 L415.6,158.9 L426.7,160.7 L437.8,163.5 L448.9,167.2 L450.0,168.4 L464.4,173.7 L478.9,182.1 L493.3,191.8 L507.8,202.6 L522.2,209.8 L536.7,220.6 L546.3,232.7 L555.9,242.3 L570.4,253.1 L580.0,261.9 L589.3,267.4 L598.5,273.9 L607.8,279.4 L617.0,286.9 L626.3,296.1 L635.6,304.4 L644.8,312.8 L654.1,320.2 L661.5,330.4 L668.7,340.0 L677.0,351.1 L686.3,361.3 L695.6,370.6 L704.8,377.0 L714.1,382.6 L723.3,388.1 L732.6,395.6 L740.0,404.8 L747.4,413.1 L754.8,419.6 L762.2,423.3 L769.6,423.3 L778.9,421.5 L788.1,419.6 L797.4,421.5 L800.0,422.4 L809.3,424.3 L818.5,422.4 L827.8,419.6 L837.0,417.8 L846.3,415.9 L855.6,413.1 L864.8,411.3 L874.1,410.0 L883.3,410.0 L892.6,410.4 L901.9,411.3 L911.1,412.2 L920.4,414.1 L929.6,415.9 L938.9,415.6 L948.1,414.1" stroke="#ff8ccc" stroke-width="1.1"/><path d="M67.9,157.0 L73.4,154.8 L79.0,155.6 L84.5,158.0 L93.8,161.7 L103.0,167.2 L112.3,172.8 L121.6,176.5 L129.0,182.0 L135.4,187.6 L140.1,186.7 L145.6,182.0 L153.0,180.2 L162.3,179.3 L171.6,178.9 L180.8,179.3 L188.2,177.4 L199.3,175.6 L208.6,172.8 L217.9,166.3 L227.1,161.7 L236.4,158.0 L243.8,156.1 L251.2,153.3 L254.9,152.4 L260.0,153.0 L269.3,153.9 L278.5,155.2 L287.8,157.0 L297.0,158.0 L306.3,158.9 L315.6,159.8 L324.8,160.7 L334.1,161.1 L343.3,159.8 L352.6,157.0 L360.0,154.3 L367.4,151.9 L378.5,150.0 L389.6,151.1 L398.9,151.9 L408.1,157.0 L417.4,164.4 L426.7,173.7 L435.9,182.0 L445.2,186.7 L450.0,189.4 L459.6,200.2 L469.3,211.0 L478.9,223.1 L488.5,229.1 L498.1,233.9 L507.8,244.7 L515.0,251.9 L522.2,254.3 L531.8,254.3 L539.1,258.0 L546.3,266.4 L555.9,276.0 L565.6,284.4 L575.2,296.0 L580.0,301.7 L585.6,310.9 L591.1,313.7 L596.7,311.9 L601.3,309.1 L607.8,310.9 L617.0,317.4 L624.4,323.9 L631.9,334.1 L639.3,345.2 L640.0,345.6 L649.3,364.1 L658.5,386.3 L667.8,404.8 L673.3,419.6 L680.7,429.8 L688.1,434.4 L695.6,438.1 L704.8,441.9 L715.9,444.1 L721.5,440.9 L728.9,434.4 L736.3,425.2 L743.7,421.5 L751.1,417.8 L760.4,415.9 L769.6,412.2 L778.9,404.8 L788.1,407.6 L797.4,408.5 L800.0,408.1 L809.3,411.3 L818.5,415.9 L827.8,423.3 L837.0,428.5 L846.3,421.5 L855.6,414.1 L864.8,406.7 L874.1,401.1 L883.3,399.3 L892.6,400.2 L901.9,408.5 L911.1,417.8 L920.4,423.7 L929.6,425.6 L938.9,422.4 L948.1,418.7" stroke="#4646e6" stroke-width="1.1"/></g><g clip-path="url(#cp)"><line x1="290" y1="192.5" x2="1041" y2="192.5" stroke="#222" stroke-width="1.5" stroke-dasharray="4 4"/><line x1="365.6" y1="232.2" x2="1041" y2="232.2" stroke="#222" stroke-width="1.5" stroke-dasharray="4 4"/><line x1="439.7" y1="281.3" x2="1041" y2="281.3" stroke="#222" stroke-width="1.5" stroke-dasharray="4 4"/><line x1="673.7" y1="418.2" x2="1041" y2="418.2" stroke="#222" stroke-width="1.5" stroke-dasharray="4 4"/><line x1="518.8" y1="492.0" x2="1041" y2="492.0" stroke="#666" stroke-width="1.8" stroke-dasharray="4 4"/><line x1="697" y1="374" x2="1041" y2="374" stroke="#ff0000" stroke-width="2.2"/><line x1="660" y1="457.7" x2="1041" y2="457.7" stroke="#008000" stroke-width="2.4"/><line x1="597.6" y1="283.1" x2="1041" y2="422.2" stroke="#22b8ee" stroke-width="1.3"/><line x1="671.7" y1="491.9" x2="1041" y2="419.9" stroke="#22b8ee" stroke-width="1.3"/></g><rect x="248.75" y="182.75" width="40.5" height="20.5" rx="1.5" fill="#fff" stroke="#111" stroke-width="1.5"/><text x="269.0" y="197.5" text-anchor="middle" font-size="12.5" fill="#222" font-weight="normal">17.24</text><rect x="325.15" y="221.75" width="39.700000000000045" height="20.5" rx="1.5" fill="#fff" stroke="#111" stroke-width="1.5"/><text x="345.0" y="236.5" text-anchor="middle" font-size="12.5" fill="#222" font-weight="normal">13.72</text><rect x="399.05" y="270.95" width="39.89999999999998" height="19.900000000000034" rx="1.5" fill="#fff" stroke="#111" stroke-width="1.5"/><text x="419.0" y="285.4" text-anchor="middle" font-size="12.5" fill="#222" font-weight="normal">10.34</text><rect x="640.45" y="409.25" width="32.5" height="19.19999999999999" rx="1.5" fill="#fff" stroke="#111" stroke-width="1.5"/><text x="656.7" y="423.35" text-anchor="middle" font-size="12.5" fill="#222" font-weight="normal">4.69</text><rect x="484.95" y="481.85" width="33.099999999999966" height="19.69999999999999" rx="1.5" fill="#fff" stroke="#111" stroke-width="1.5"/><text x="501.5" y="496.20000000000005" text-anchor="middle" font-size="12.5" fill="#222" font-weight="normal">3.07</text><rect x="663" y="364" width="35" height="21.4" fill="#ff0000"/><text x="680.5" y="379.3" text-anchor="middle" font-size="13" font-weight="bold" fill="#fff">6.04</text><rect x="624" y="447.2" width="36" height="21.6" fill="#008000"/><text x="642" y="462.6" text-anchor="middle" font-size="13" font-weight="bold" fill="#fff">3.73</text><rect x="1042" y="127" width="3" height="1" fill="#f0c0d8"/><text x="1047" y="130.3" font-size="11" fill="#333">25</text><rect x="1042" y="166" width="3" height="1" fill="#f0c0d8"/><text x="1047" y="169.0" font-size="11" fill="#333">20</text><rect x="1042" y="216" width="3" height="1" fill="#f0c0d8"/><text x="1047" y="219.0" font-size="11" fill="#333">15</text><rect x="1042" y="255" width="3" height="1" fill="#f0c0d8"/><text x="1047" y="257.8" font-size="11" fill="#333">12</text><rect x="1042" y="286" width="3" height="1" fill="#f0c0d8"/><text x="1047" y="289.5" font-size="11" fill="#333">10</text><rect x="1042" y="325" width="3" height="1" fill="#f0c0d8"/><text x="1047" y="328.3" font-size="11" fill="#333">8</text><rect x="1042" y="375" width="3" height="1" fill="#f0c0d8"/><text x="1047" y="378.3" font-size="11" fill="#333">6</text><rect x="1042" y="446" width="3" height="1" fill="#f0c0d8"/><text x="1047" y="448.8" font-size="11" fill="#333">4</text><rect x="1042" y="496" width="3" height="1" fill="#f0c0d8"/><text x="1047" y="498.8" font-size="11" fill="#333">3</text><rect x="1042" y="527" width="3" height="1" fill="#f0c0d8"/><text x="1047" y="530.4" font-size="11" fill="#333">2,5</text><rect x="1042" y="545" width="3" height="1" fill="#f0c0d8"/><text x="1047" y="549.5" font-size="11" fill="#333">200M</text><rect x="1041.5" y="579.5" width="40" height="14.5" rx="4" fill="#fff" stroke="#ccc"/><text x="1061.5" y="590.8" text-anchor="middle" font-size="11" font-weight="bold" fill="#22ee22">24,7M</text><rect x="1041.5" y="310.5" width="31" height="14.5" rx="3.5" fill="#fff" stroke="#ccc"/><text x="1057" y="321.8" text-anchor="middle" font-size="11" fill="#0a8a0a">8,34</text><rect x="1041.5" y="411.8" width="31" height="13.4" rx="2" fill="#fff" stroke="#ccc"/><text x="1057" y="422.5" text-anchor="middle" font-size="11" fill="#ffa83c">4,67</text><rect x="1041.5" y="397.5" width="31.5" height="14.8" rx="4" fill="#f8c81c" stroke="#f0b400"/><text x="1057" y="408.6" text-anchor="middle" font-size="11" fill="#111">5,04</text><g clip-path="url(#ct)"><rect x="66" y="599" width="1" height="2" fill="#ccc"/><text x="65.6" y="611" text-anchor="middle" font-size="11" fill="#333" font-weight="bold">2020</text><rect x="130" y="599" width="1" height="2" fill="#ccc"/><text x="130.3" y="611" text-anchor="middle" font-size="11" fill="#333" font-weight="normal">Jul</text><rect x="206" y="599" width="1" height="2" fill="#ccc"/><text x="206.3" y="611" text-anchor="middle" font-size="11" fill="#333" font-weight="bold">2021</text><rect x="283" y="599" width="1" height="2" fill="#ccc"/><text x="282.7" y="611" text-anchor="middle" font-size="11" fill="#333" font-weight="normal">Jul</text><rect x="360" y="599" width="1" height="2" fill="#ccc"/><text x="359.5" y="611" text-anchor="middle" font-size="11" fill="#333" font-weight="bold">2022</text><rect x="436" y="599" width="1" height="2" fill="#ccc"/><text x="435.9" y="611" text-anchor="middle" font-size="11" fill="#333" font-weight="normal">Jul</text><rect x="513" y="599" width="1" height="2" fill="#ccc"/><text x="512.7" y="611" text-anchor="middle" font-size="11" fill="#333" font-weight="bold">2023</text><rect x="589" y="599" width="1" height="2" fill="#ccc"/><text x="589.1" y="611" text-anchor="middle" font-size="11" fill="#333" font-weight="normal">Jul</text><rect x="666" y="599" width="1" height="2" fill="#ccc"/><text x="665.9" y="611" text-anchor="middle" font-size="11" fill="#333" font-weight="bold">2024</text><rect x="742" y="599" width="1" height="2" fill="#ccc"/><text x="742.3" y="611" text-anchor="middle" font-size="11" fill="#333" font-weight="normal">Jul</text><rect x="819" y="599" width="1" height="2" fill="#ccc"/><text x="819.1" y="611" text-anchor="middle" font-size="11" fill="#333" font-weight="bold">2025</text><rect x="895" y="599" width="1" height="2" fill="#ccc"/><text x="895.5" y="611" text-anchor="middle" font-size="11" fill="#333" font-weight="normal">Jul</text><rect x="972" y="599" width="1" height="2" fill="#ccc"/><text x="972.3" y="611" text-anchor="middle" font-size="11" fill="#333" font-weight="bold">2026</text><rect x="1049" y="599" width="1" height="2" fill="#ccc"/><text x="1048.7" y="611" text-anchor="middle" font-size="11" fill="#333" font-weight="normal">Jul</text><rect x="1040" y="599" width="1" height="2" fill="#ccc"/><text x="1039.5" y="611" text-anchor="middle" font-size="11" fill="#333" font-weight="normal">Jul</text></g><line x1="709.8" y1="356.2" x2="727.5" y2="352.6" stroke="#ff0000" stroke-width="6.5" stroke-linecap="round"/><line x1="766.2" y1="359.3" x2="779.6" y2="358.7" stroke="#ff0000" stroke-width="6.5" stroke-linecap="round"/><line x1="847.6" y1="363.1" x2="861.8" y2="363.1" stroke="#ff0000" stroke-width="6.5" stroke-linecap="round"/><line x1="927.8" y1="380.4" x2="944.5" y2="380.4" stroke="#ff0000" stroke-width="6.5" stroke-linecap="round"/><path d="M662.3,508 L690,508.3 L703,508.8 L708,510" stroke="#ff0000" stroke-width="6.5" stroke-linecap="round" stroke-linejoin="round" fill="none"/><path d="M953.5,416.5 L951.5,422.0 L951.5,434.0 L953.6,442.4 L958.7,447.5 L965.5,445.8 L972.3,440.7 L978.2,436.5 L979.9,444.1 L981.6,467.9 L985.0,479.8 L989.2,481.5 L994.3,473.0 L999.4,466.2 L1003.7,476.4 L1009.6,488.3 L1013.0,497.6" stroke="#ff0000" stroke-width="7" stroke-linecap="round" stroke-linejoin="round" fill="none"/><path d="M1013.9,497.6 L1014.7,476.4 L1016.4,456.0 L1019.8,434.0 L1024.9,420.4 L1029.1,415.3 L1032.5,422.0 L1037.6,434.0 L1041.3,436.5 L1048.4,425.9 L1055.5,394.0 L1064.4,362.0 L1071.5,331.8 L1076.8,349.6 L1080.3,358.4 L1085.7,353.1 L1087.4,337.1 L1091.0,315.8 L1096.3,283.9 L1099.9,248.4 L1103.0,230.0" stroke="#5ef000" stroke-width="7" stroke-linecap="round" stroke-linejoin="round" fill="none"/></svg>

<svg class="a" style="left:0;top:0" width="1102" height="648">
<!-- selected arrow box -->
<rect x="24.5" y="51.5" width="35" height="35" fill="#ededed" stroke="#cfcfcf"/>
<path d="M37.2,60 L37.2,75.5 L40.6,72.2 L43.3,77.6 L45.6,76.5 L43.0,71.2 L47.9,70.8 Z" fill="#333"/>
<!-- magnifier -->
<circle cx="40.6" cy="101" r="5.3" fill="none" stroke="#333" stroke-width="2.2"/>
<line x1="44.6" y1="105" x2="50.6" y2="111.4" stroke="#333" stroke-width="2.4" stroke-linecap="round"/>
<path d="M29.4,113.8 L44.4,113.8" stroke="#1a5fd8" stroke-width="2"/>
<path d="M29,113.8 L33,110.6 L33,117 Z M44.8,113.8 L40.8,110.6 L40.8,117 Z" fill="#1a5fd8"/>
<!-- eye -->
<path d="M33.1,140.8 Q42,131.5 50.9,140.8 Q42,150 33.1,140.8 Z" fill="#333"/>
<circle cx="42" cy="140.8" r="3.8" fill="#fff"/>
<circle cx="42" cy="140.8" r="2.6" fill="#333"/>
<circle cx="42.8" cy="140" r="0.8" fill="#fff"/>
<!-- copy -->
<path d="M31.3,165.3 L38.5,165.3 L41.3,168 L41.3,178 L31.3,178 Z" fill="#fff" stroke="#999" stroke-width="1"/>
<path d="M39.3,170.6 L46.5,170.6 L50.2,174.3 L50.2,185.3 L39.3,185.3 Z" fill="#fff" stroke="#333" stroke-width="1.6"/>
<path d="M46.2,170.6 L46.2,174.6 L50.2,174.6" fill="none" stroke="#333" stroke-width="1.2"/>
<path d="M41.5,177.5 H47.8 M41.5,179.8 H47.8 M41.5,182.1 H47.8" stroke="#333" stroke-width="1"/>
<!-- trash -->
<path d="M34.5,207.5 H50.5" stroke="#333" stroke-width="2.2"/>
<path d="M39.5,206.5 V204.8 H45.5 V206.5" fill="none" stroke="#333" stroke-width="1.6"/>
<path d="M36.3,209.5 L37.2,220.3 H47.8 L48.7,209.5 Z" fill="#333"/>
<path d="M39.7,211.5 V218.5 M42.5,211.5 V218.5 M45.3,211.5 V218.5" stroke="#fff" stroke-width="1.1"/>
<!-- box 2 zigzag -->
<rect x="24.5" y="231.5" width="35" height="34" fill="#efefef" stroke="#cfcfcf"/>
<path d="M33,242 L52.4,242 L44,250.5 Q42,246 33,242 Z" fill="#2a9a2a"/>
<path d="M33,256.5 L52.4,256.5 Q46,255 41,246.5 Q37,254 33,256.5 Z" fill="#dd2222"/>
<!-- box 3 magnet -->
<rect x="24.5" y="267.5" width="35" height="34.5" fill="#efefef" stroke="#cfcfcf"/>
<path d="M36.6,289.5 L36.6,284 A5.6,5.6 0 0 1 47.8,284 L47.8,289.5" fill="none" stroke="#e03030" stroke-width="3.2"/>
<rect x="35" y="289" width="3.3" height="3.8" fill="#8a96a3"/>
<rect x="46.1" y="289" width="3.3" height="3.8" fill="#8a96a3"/>
<!-- chevron -->
<path d="M37.6,319.8 L42.2,315.6 L46.8,319.8" fill="none" stroke="#333" stroke-width="2.2"/>
<!-- pencil tool -->
<path d="M31,341 L42,351" stroke="#e03030" stroke-width="1.2"/>
<path d="M32,358 Q33.5,343 37,350 Q39.5,358 41.5,351 Q43,346 45,353" fill="none" stroke="#333" stroke-width="1"/>
<path d="M41.5,359 L43.8,353 L50.5,342.6 L54.2,345 L47.5,355.4 Z" fill="#f6c21a" stroke="#333" stroke-width="0.8"/>
<path d="M30.8,360.4 H42" stroke="#22bb22" stroke-width="1.3"/>
<path d="M62,348.8 L64.5,351 L62,353.2 Z" fill="#aaa"/>
<!-- Indikatoren icon -->
<path d="M1048,73.5 H1067" stroke="#222" stroke-width="1.2"/>
<path d="M1048,67.5 H1051.5 V73 H1048 Z M1054,70.5 H1057.5 V73 H1054 Z M1057.5,69 H1060.5 V73 H1057.5 Z M1063.5,67.5 H1067 V73 H1063.5 Z" fill="#22aa22"/>
<path d="M1051.5,70 H1054 V73 H1051.5 Z M1060.5,70 H1063.5 V73 H1060.5 Z" fill="#e03030"/>
<path d="M1048,60.5 Q1052,52 1056.5,59 Q1061,68 1067,58.5" fill="none" stroke="#22aa22" stroke-width="1.1"/>
<path d="M1048,63.3 Q1056,60 1067,64.5" fill="none" stroke="#e86060" stroke-width="1"/>
<path d="M1049.5,61 Q1053,55 1056.5,60 L1056.5,63 Q1052,62 1049.5,61 Z" fill="#d8efd8"/>
<path d="M1060.4,54.8 V57.5 M1058.5,57.5 L1062.3,57.5 L1060.4,59.8 Z" stroke="#e03030" fill="#e03030" stroke-width="1.2"/>
<path d="M1052.5,66.5 V63.5 M1050.5,63.8 L1054.5,63.8 L1052.5,61.5 Z" stroke="#22aa22" fill="#22aa22" stroke-width="1.2"/>
<!-- bottom bar icons -->
<rect x="75.5" y="628" width="5" height="7" fill="#e03030"/><path d="M78,625.5 V637.5" stroke="#e03030" stroke-width="1"/>
<rect x="85.5" y="623" width="5" height="12" fill="#22aa22"/><path d="M88,621 V638.5" stroke="#22aa22" stroke-width="1"/>
<path d="M77.5,637 L82.5,631.5 Q81,627.5 84.5,625.5 L86.5,627.5 L85,629 L86.5,630.5 L88,629 L89.5,630.5 Q88,634 84.5,633 L79.5,638.5 Z" fill="#fff" stroke="#333" stroke-width="0.9"/>
<circle cx="115.5" cy="625" r="2.8" fill="#1a5fd8"/>
<circle cx="104.5" cy="630.6" r="2.8" fill="#1a5fd8"/>
<circle cx="115.5" cy="636.2" r="2.8" fill="#1a5fd8"/>
<path d="M104.5,630.6 L115.5,625 M104.5,630.6 L115.5,636.2" stroke="#1a5fd8" stroke-width="1.4"/>
<path d="M120,638.5 L120,641.5 L117,641.5 Z" fill="#333"/>
<rect x="125" y="627" width="5" height="8" fill="#e03030"/><path d="M127.5,624 V637" stroke="#e03030" stroke-width="1"/>
<rect x="133" y="621.5" width="5" height="6" fill="#22aa22"/><path d="M135.5,619 V624" stroke="#22aa22" stroke-width="1"/>
<circle cx="136.8" cy="632.6" r="7.3" fill="#fff" stroke="#aaa" stroke-width="1.2"/>
<text x="136.8" y="637.3" text-anchor="middle" font-size="12" font-weight="bold" fill="#999" font-family="Liberation Sans">?</text>
<path d="M168.3,627 L168.3,634.8 L164,630.9 Z" fill="#333"/>
<path d="M178.5,626 V634.5" stroke="#ccc" stroke-width="1"/>
<path d="M1024,627 L1024,635 L1028.3,631 Z" fill="#333"/>
<!-- expand icon -->
<g stroke="#1a5fd8" stroke-width="2.2" fill="none">
<path d="M1062.5,623.5 L1067.5,628.5 M1075.5,623.5 L1070.5,628.5 M1062.5,636.5 L1067.5,631.5 M1075.5,636.5 L1070.5,631.5"/>
</g>
<path d="M1061,622 H1066.5 L1061,627.5 Z M1077,622 H1071.5 L1077,627.5 Z M1061,638 H1066.5 L1061,632.5 Z M1077,638 H1071.5 L1077,632.5 Z" fill="#1a5fd8"/>
<!-- ProRealTime logo -->
<path d="M74.5,520 V531.5 M80,518 V528.5 M85.5,515.5 V526" stroke="#333" stroke-width="0.9"/>
<rect x="73.3" y="522" width="2.6" height="6" fill="#333"/>
<rect x="78.8" y="520" width="2.6" height="5.5" fill="#fff" stroke="#333" stroke-width="0.9"/>
<rect x="84.3" y="517.5" width="2.6" height="6" fill="#fff" stroke="#333" stroke-width="0.9"/>
</svg>

<!-- legends -->
<div class="leg" style="left:72px;width:44px"><div class="sw" style="left:3px;background:linear-gradient(90deg,#00ee00 50%,#ff0000 50%)"></div><span class="lt">Kurs</span></div>
<div class="leg" style="left:121px;width:66px"><div class="sw" style="left:3px;background:#3333dd"></div><span class="lt">SMA (20)</span></div>
<div class="leg" style="left:192px;width:67px"><div class="sw" style="left:3px;background:#ff88c8"></div><span class="lt">SMA (50)</span></div>
<div class="leg" style="left:264px;width:73px"><div class="sw" style="left:3px;background:#ffbb44"></div><span class="lt">SMA (100)</span></div>
<div class="leg" style="left:342px;width:73px"><div class="sw" style="left:3px;background:#008000"></div><span class="lt">SMA (200)</span></div>
<div class="leg" style="left:72px;top:543px;width:65px;height:19px"><div class="sw" style="left:3px;background:linear-gradient(90deg,#00ee00 50%,#ff0000 50%)"></div><span class="lt">Volumen</span></div>
<div class="a" style="left:92px;top:517px;font-size:11px;color:#333;white-space:nowrap">ProRealTime -</div><div class="a" style="left:167px;top:518px;font-size:10px;color:#2a7ad8;white-space:nowrap">15 Min zeitverzögert</div>
</body></html>
